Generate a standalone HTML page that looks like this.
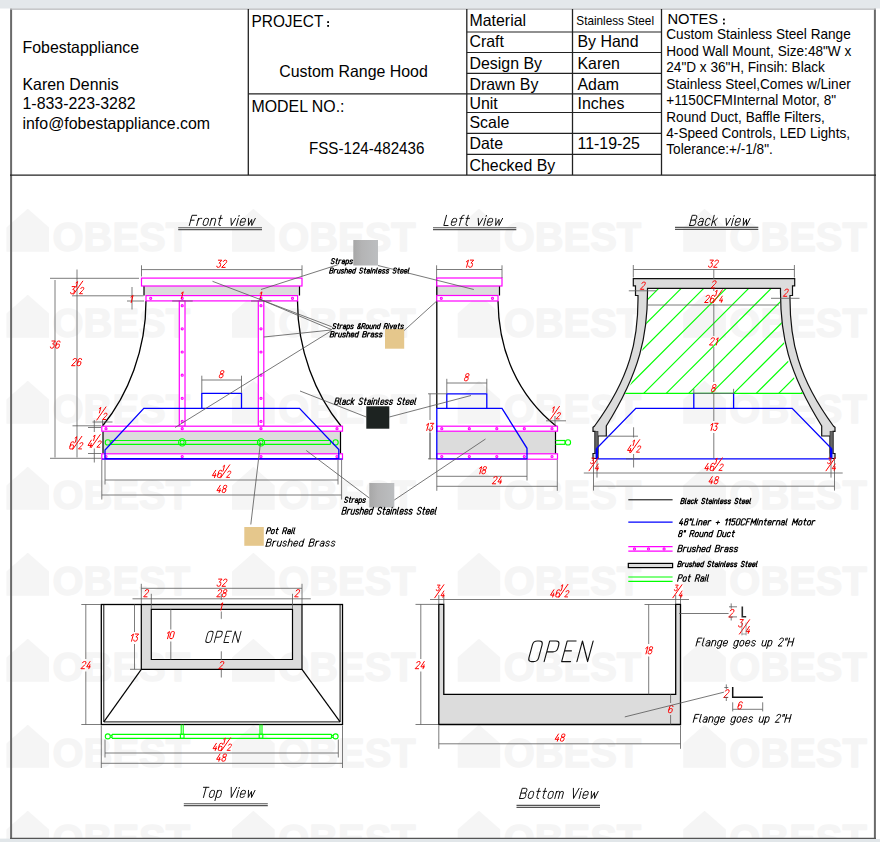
<!DOCTYPE html>
<html><head><meta charset="utf-8"><title>Custom Range Hood FSS-124-482436</title>
<style>
html,body{margin:0;padding:0;background:#fff;}
body{width:880px;height:842px;overflow:hidden;font-family:"Liberation Sans",sans-serif;}
svg{display:block;font-family:"Liberation Sans",sans-serif;}
</style></head><body>
<svg width="880" height="842" viewBox="0 0 880 842">
<rect x="0" y="0" width="880" height="842" fill="#fff"/>
<rect x="0" y="0" width="880" height="8.5" fill="#e4e8eb"/>
<g fill="#f5f5f5" stroke="#f5f5f5" stroke-width="1.3" stroke-linejoin="round">
<path stroke="none" d="M6.45 251.70V227.60L27.75 208.70L49.05 227.60V251.70Z"/>
<text x="52.55" y="251.20" font-size="40.6" font-weight="bold" textLength="137.5" lengthAdjust="spacingAndGlyphs">OBEST</text>
<path stroke="none" d="M232.05 251.70V227.60L253.35 208.70L274.65 227.60V251.70Z"/>
<text x="278.15" y="251.20" font-size="40.6" font-weight="bold" textLength="137.5" lengthAdjust="spacingAndGlyphs">OBEST</text>
<path stroke="none" d="M457.65 251.70V227.60L478.95 208.70L500.25 227.60V251.70Z"/>
<text x="503.75" y="251.20" font-size="40.6" font-weight="bold" textLength="137.5" lengthAdjust="spacingAndGlyphs">OBEST</text>
<path stroke="none" d="M683.25 251.70V227.60L704.55 208.70L725.85 227.60V251.70Z"/>
<text x="729.35" y="251.20" font-size="40.6" font-weight="bold" textLength="137.5" lengthAdjust="spacingAndGlyphs">OBEST</text>
<path stroke="none" d="M6.45 337.70V313.60L27.75 294.70L49.05 313.60V337.70Z"/>
<text x="52.55" y="337.20" font-size="40.6" font-weight="bold" textLength="137.5" lengthAdjust="spacingAndGlyphs">OBEST</text>
<path stroke="none" d="M232.05 337.70V313.60L253.35 294.70L274.65 313.60V337.70Z"/>
<text x="278.15" y="337.20" font-size="40.6" font-weight="bold" textLength="137.5" lengthAdjust="spacingAndGlyphs">OBEST</text>
<path stroke="none" d="M457.65 337.70V313.60L478.95 294.70L500.25 313.60V337.70Z"/>
<text x="503.75" y="337.20" font-size="40.6" font-weight="bold" textLength="137.5" lengthAdjust="spacingAndGlyphs">OBEST</text>
<path stroke="none" d="M683.25 337.70V313.60L704.55 294.70L725.85 313.60V337.70Z"/>
<text x="729.35" y="337.20" font-size="40.6" font-weight="bold" textLength="137.5" lengthAdjust="spacingAndGlyphs">OBEST</text>
<path stroke="none" d="M6.45 423.70V399.60L27.75 380.70L49.05 399.60V423.70Z"/>
<text x="52.55" y="423.20" font-size="40.6" font-weight="bold" textLength="137.5" lengthAdjust="spacingAndGlyphs">OBEST</text>
<path stroke="none" d="M232.05 423.70V399.60L253.35 380.70L274.65 399.60V423.70Z"/>
<text x="278.15" y="423.20" font-size="40.6" font-weight="bold" textLength="137.5" lengthAdjust="spacingAndGlyphs">OBEST</text>
<path stroke="none" d="M457.65 423.70V399.60L478.95 380.70L500.25 399.60V423.70Z"/>
<text x="503.75" y="423.20" font-size="40.6" font-weight="bold" textLength="137.5" lengthAdjust="spacingAndGlyphs">OBEST</text>
<path stroke="none" d="M683.25 423.70V399.60L704.55 380.70L725.85 399.60V423.70Z"/>
<text x="729.35" y="423.20" font-size="40.6" font-weight="bold" textLength="137.5" lengthAdjust="spacingAndGlyphs">OBEST</text>
<path stroke="none" d="M6.45 509.70V485.60L27.75 466.70L49.05 485.60V509.70Z"/>
<text x="52.55" y="509.20" font-size="40.6" font-weight="bold" textLength="137.5" lengthAdjust="spacingAndGlyphs">OBEST</text>
<path stroke="none" d="M232.05 509.70V485.60L253.35 466.70L274.65 485.60V509.70Z"/>
<text x="278.15" y="509.20" font-size="40.6" font-weight="bold" textLength="137.5" lengthAdjust="spacingAndGlyphs">OBEST</text>
<path stroke="none" d="M457.65 509.70V485.60L478.95 466.70L500.25 485.60V509.70Z"/>
<text x="503.75" y="509.20" font-size="40.6" font-weight="bold" textLength="137.5" lengthAdjust="spacingAndGlyphs">OBEST</text>
<path stroke="none" d="M683.25 509.70V485.60L704.55 466.70L725.85 485.60V509.70Z"/>
<text x="729.35" y="509.20" font-size="40.6" font-weight="bold" textLength="137.5" lengthAdjust="spacingAndGlyphs">OBEST</text>
<path stroke="none" d="M6.45 595.70V571.60L27.75 552.70L49.05 571.60V595.70Z"/>
<text x="52.55" y="595.20" font-size="40.6" font-weight="bold" textLength="137.5" lengthAdjust="spacingAndGlyphs">OBEST</text>
<path stroke="none" d="M232.05 595.70V571.60L253.35 552.70L274.65 571.60V595.70Z"/>
<text x="278.15" y="595.20" font-size="40.6" font-weight="bold" textLength="137.5" lengthAdjust="spacingAndGlyphs">OBEST</text>
<path stroke="none" d="M457.65 595.70V571.60L478.95 552.70L500.25 571.60V595.70Z"/>
<text x="503.75" y="595.20" font-size="40.6" font-weight="bold" textLength="137.5" lengthAdjust="spacingAndGlyphs">OBEST</text>
<path stroke="none" d="M683.25 595.70V571.60L704.55 552.70L725.85 571.60V595.70Z"/>
<text x="729.35" y="595.20" font-size="40.6" font-weight="bold" textLength="137.5" lengthAdjust="spacingAndGlyphs">OBEST</text>
<path stroke="none" d="M6.45 681.70V657.60L27.75 638.70L49.05 657.60V681.70Z"/>
<text x="52.55" y="681.20" font-size="40.6" font-weight="bold" textLength="137.5" lengthAdjust="spacingAndGlyphs">OBEST</text>
<path stroke="none" d="M232.05 681.70V657.60L253.35 638.70L274.65 657.60V681.70Z"/>
<text x="278.15" y="681.20" font-size="40.6" font-weight="bold" textLength="137.5" lengthAdjust="spacingAndGlyphs">OBEST</text>
<path stroke="none" d="M457.65 681.70V657.60L478.95 638.70L500.25 657.60V681.70Z"/>
<text x="503.75" y="681.20" font-size="40.6" font-weight="bold" textLength="137.5" lengthAdjust="spacingAndGlyphs">OBEST</text>
<path stroke="none" d="M683.25 681.70V657.60L704.55 638.70L725.85 657.60V681.70Z"/>
<text x="729.35" y="681.20" font-size="40.6" font-weight="bold" textLength="137.5" lengthAdjust="spacingAndGlyphs">OBEST</text>
<path stroke="none" d="M6.45 767.70V743.60L27.75 724.70L49.05 743.60V767.70Z"/>
<text x="52.55" y="767.20" font-size="40.6" font-weight="bold" textLength="137.5" lengthAdjust="spacingAndGlyphs">OBEST</text>
<path stroke="none" d="M232.05 767.70V743.60L253.35 724.70L274.65 743.60V767.70Z"/>
<text x="278.15" y="767.20" font-size="40.6" font-weight="bold" textLength="137.5" lengthAdjust="spacingAndGlyphs">OBEST</text>
<path stroke="none" d="M457.65 767.70V743.60L478.95 724.70L500.25 743.60V767.70Z"/>
<text x="503.75" y="767.20" font-size="40.6" font-weight="bold" textLength="137.5" lengthAdjust="spacingAndGlyphs">OBEST</text>
<path stroke="none" d="M683.25 767.70V743.60L704.55 724.70L725.85 743.60V767.70Z"/>
<text x="729.35" y="767.20" font-size="40.6" font-weight="bold" textLength="137.5" lengthAdjust="spacingAndGlyphs">OBEST</text>
<path stroke="none" d="M6.45 853.70V829.60L27.75 810.70L49.05 829.60V853.70Z"/>
<text x="52.55" y="853.20" font-size="40.6" font-weight="bold" textLength="137.5" lengthAdjust="spacingAndGlyphs">OBEST</text>
<path stroke="none" d="M232.05 853.70V829.60L253.35 810.70L274.65 829.60V853.70Z"/>
<text x="278.15" y="853.20" font-size="40.6" font-weight="bold" textLength="137.5" lengthAdjust="spacingAndGlyphs">OBEST</text>
<path stroke="none" d="M457.65 853.70V829.60L478.95 810.70L500.25 829.60V853.70Z"/>
<text x="503.75" y="853.20" font-size="40.6" font-weight="bold" textLength="137.5" lengthAdjust="spacingAndGlyphs">OBEST</text>
<path stroke="none" d="M683.25 853.70V829.60L704.55 810.70L725.85 829.60V853.70Z"/>
<text x="729.35" y="853.20" font-size="40.6" font-weight="bold" textLength="137.5" lengthAdjust="spacingAndGlyphs">OBEST</text>
</g>
<rect x="0" y="838.6" width="880" height="4" fill="#e1e6e9"/>
<rect x="876" y="9" width="4" height="830" fill="#fff"/>
<line x1="11.1" y1="8.8" x2="11.1" y2="838.9" stroke="#6a6a6a" stroke-width="2" />
<line x1="874.9" y1="8.8" x2="874.9" y2="838.9" stroke="#6a6a6a" stroke-width="2" />
<line x1="10.1" y1="9.1" x2="875.9" y2="9.1" stroke="#b4b6b8" stroke-width="1.2" />
<line x1="10.1" y1="838.35" x2="875.9" y2="838.35" stroke="#555" stroke-width="1.2" />
<line x1="10" y1="175.2" x2="876" y2="175.2" stroke="#222" stroke-width="1.3" />
<line x1="248.3" y1="9" x2="248.3" y2="175" stroke="#222" stroke-width="1.3" />
<line x1="466.8" y1="9" x2="466.8" y2="175" stroke="#222" stroke-width="1.3" />
<line x1="572.5" y1="9" x2="572.5" y2="175" stroke="#222" stroke-width="1.3" />
<line x1="661.5" y1="9" x2="661.5" y2="175" stroke="#222" stroke-width="1.3" />
<line x1="248.3" y1="93.8" x2="466.8" y2="93.8" stroke="#222" stroke-width="1.2" />
<line x1="466.8" y1="32" x2="661.5" y2="32" stroke="#222" stroke-width="1.2" />
<line x1="466.8" y1="52.5" x2="661.5" y2="52.5" stroke="#222" stroke-width="1.2" />
<line x1="466.8" y1="73.3" x2="661.5" y2="73.3" stroke="#222" stroke-width="1.2" />
<line x1="466.8" y1="93.8" x2="661.5" y2="93.8" stroke="#222" stroke-width="1.2" />
<line x1="466.8" y1="112.5" x2="661.5" y2="112.5" stroke="#222" stroke-width="1.2" />
<line x1="466.8" y1="133.3" x2="661.5" y2="133.3" stroke="#222" stroke-width="1.2" />
<line x1="466.8" y1="154.3" x2="661.5" y2="154.3" stroke="#222" stroke-width="1.2" />
<text x="22.5" y="52.7" font-size="16.5" fill="#000" text-anchor="start" textLength="116.67" lengthAdjust="spacingAndGlyphs" >Fobestappliance</text>
<text x="22.5" y="90" font-size="16.5" fill="#000" text-anchor="start" textLength="96.33" lengthAdjust="spacingAndGlyphs" >Karen Dennis</text>
<text x="22.5" y="109.4" font-size="16.5" fill="#000" text-anchor="start" textLength="113.14" lengthAdjust="spacingAndGlyphs" >1-833-223-3282</text>
<text x="22.5" y="128.7" font-size="16.5" fill="#000" text-anchor="start" textLength="187.61" lengthAdjust="spacingAndGlyphs" >info@fobestappliance.com</text>
<text x="251.5" y="26.7" font-size="15.8" fill="#000" text-anchor="start" textLength="71.87" lengthAdjust="spacingAndGlyphs" >PROJECT</text>
<rect x="327.2" y="21.2" width="1.8" height="1.8" stroke="none" fill="#000" stroke-width="1"/>
<rect x="327.2" y="25" width="1.8" height="1.8" stroke="none" fill="#000" stroke-width="1"/>
<text x="279.3" y="76.7" font-size="16.5" fill="#000" text-anchor="start" textLength="148.47" lengthAdjust="spacingAndGlyphs" >Custom Range Hood</text>
<text x="251.5" y="111.7" font-size="16.5" fill="#000" text-anchor="start" textLength="93.05" lengthAdjust="spacingAndGlyphs" >MODEL NO.:</text>
<text x="309" y="154.4" font-size="15.7" fill="#000" text-anchor="start" textLength="115.38" lengthAdjust="spacingAndGlyphs" >FSS-124-482436</text>
<text x="469.5" y="25.5" font-size="16.5" fill="#000" text-anchor="start" textLength="56.55" lengthAdjust="spacingAndGlyphs" >Material</text>
<text x="469.5" y="46.7" font-size="16.5" fill="#000" text-anchor="start" textLength="34.45" lengthAdjust="spacingAndGlyphs" >Craft</text>
<text x="469.5" y="68.7" font-size="16.5" fill="#000" text-anchor="start" textLength="72.46" lengthAdjust="spacingAndGlyphs" >Design By</text>
<text x="469.5" y="89.5" font-size="16.5" fill="#000" text-anchor="start" textLength="68.92" lengthAdjust="spacingAndGlyphs" >Drawn By</text>
<text x="469.5" y="108.7" font-size="16.5" fill="#000" text-anchor="start" textLength="28.27" lengthAdjust="spacingAndGlyphs" >Unit</text>
<text x="469.5" y="127.5" font-size="16.5" fill="#000" text-anchor="start" textLength="39.77" lengthAdjust="spacingAndGlyphs" >Scale</text>
<text x="469.5" y="148.7" font-size="16.5" fill="#000" text-anchor="start" textLength="33.58" lengthAdjust="spacingAndGlyphs" >Date</text>
<text x="469.5" y="170.5" font-size="16.5" fill="#000" text-anchor="start" textLength="85.72" lengthAdjust="spacingAndGlyphs" >Checked By</text>
<text x="576.3" y="24.6" font-size="12.2" fill="#000" text-anchor="start" textLength="77.72" lengthAdjust="spacingAndGlyphs" >Stainless Steel</text>
<text x="577.5" y="46.7" font-size="16.5" fill="#000" text-anchor="start" textLength="60.98" lengthAdjust="spacingAndGlyphs" >By Hand</text>
<text x="577.5" y="68.7" font-size="16.5" fill="#000" text-anchor="start" textLength="42.43" lengthAdjust="spacingAndGlyphs" >Karen</text>
<text x="577.5" y="89.5" font-size="16.5" fill="#000" text-anchor="start" textLength="41.53" lengthAdjust="spacingAndGlyphs" >Adam</text>
<text x="577.5" y="108.7" font-size="16.5" fill="#000" text-anchor="start" textLength="46.84" lengthAdjust="spacingAndGlyphs" >Inches</text>
<text x="577.5" y="148.7" font-size="16.5" fill="#000" text-anchor="start" textLength="62.46" lengthAdjust="spacingAndGlyphs" >11-19-25</text>
<text x="667.5" y="24.2" font-size="14.9" fill="#000" text-anchor="start" textLength="50.64" lengthAdjust="spacingAndGlyphs" >NOTES</text>
<rect x="723" y="18.6" width="1.8" height="1.8" stroke="none" fill="#000" stroke-width="1"/>
<rect x="723" y="22.6" width="1.8" height="1.8" stroke="none" fill="#000" stroke-width="1"/>
<text x="666.3" y="38.7" font-size="14.1" fill="#000" text-anchor="start" textLength="184.44" lengthAdjust="spacingAndGlyphs" >Custom Stainless Steel Range</text>
<text x="666.3" y="55.5" font-size="14.1" fill="#000" text-anchor="start" textLength="184.96" lengthAdjust="spacingAndGlyphs" >Hood Wall Mount, Size:48"W x</text>
<text x="666.3" y="71.8" font-size="14.1" fill="#000" text-anchor="start" textLength="158.55" lengthAdjust="spacingAndGlyphs" >24"D x 36"H, Finsih: Black</text>
<text x="666.3" y="88.7" font-size="14.1" fill="#000" text-anchor="start" textLength="184.43" lengthAdjust="spacingAndGlyphs" >Stainless Steel,Comes w/Liner</text>
<text x="666.3" y="104.5" font-size="14.1" fill="#000" text-anchor="start" textLength="169.74" lengthAdjust="spacingAndGlyphs" >+1150CFMInternal Motor, 8"</text>
<text x="666.3" y="121.7" font-size="14.1" fill="#000" text-anchor="start" textLength="158.48" lengthAdjust="spacingAndGlyphs" >Round Duct, Baffle Filters,</text>
<text x="666.3" y="138" font-size="14.1" fill="#000" text-anchor="start" textLength="183.69" lengthAdjust="spacingAndGlyphs" >4-Speed Controls, LED Lights,</text>
<text x="666.3" y="153.5" font-size="14.1" fill="#000" text-anchor="start" textLength="106.5" lengthAdjust="spacingAndGlyphs" >Tolerance:+/-1/8".</text>
<g>
<g transform="translate(189.30 225.5) skewX(-15) scale(1.0092 1.0200)" fill="none" stroke="#111" stroke-width="1.0" stroke-linejoin="round" stroke-linecap="round"><path transform="translate(0.00 0)" d="M0 0 V-10 H4.6 M0 -5.2 H3.4" vector-effect="non-scaling-stroke"/><path transform="translate(7.30 0)" d="M0 0 V-7 M0 -5 Q0 -7 2 -7 H3.2" vector-effect="non-scaling-stroke"/><path transform="translate(13.20 0)" d="M1.8 0 Q0 0 0 -1.8 V-5.2 Q0 -7 1.8 -7 H2.6 Q4.4 -7 4.4 -5.2 V-1.8 Q4.4 0 2.6 0 Z" vector-effect="non-scaling-stroke"/><path transform="translate(20.30 0)" d="M0 0 V-7 M0 -5.2 Q0 -7 1.8 -7 H2.6 Q4.4 -7 4.4 -5.2 V0" vector-effect="non-scaling-stroke"/><path transform="translate(27.40 0)" d="M1.4 -10 V-1.7 Q1.4 0 3.1 0 H3.4 M0 -7 H3.4" vector-effect="non-scaling-stroke"/><path transform="translate(39.40 0)" d="M0 -7 L2.3 0 L4.6 -7" vector-effect="non-scaling-stroke"/><path transform="translate(46.70 0)" d="M0 0 V-7 M0 -9 V-9.9" vector-effect="non-scaling-stroke"/><path transform="translate(49.80 0)" d="M0 -3.4 H4.4 V-5.2 Q4.4 -7 2.6 -7 H1.8 Q0 -7 0 -5.2 V-1.8 Q0 0 1.8 0 H2.6 Q4.2 0 4.4 -1.4" vector-effect="non-scaling-stroke"/><path transform="translate(56.90 0)" d="M0 -7 L1.65 0 L3.3 -6 L4.95 0 L6.6 -7" vector-effect="non-scaling-stroke"/></g>
<line x1="178.2" y1="227.7" x2="262" y2="227.7" stroke="#555" stroke-width="1.1" />
<line x1="178.2" y1="229.6" x2="262" y2="229.6" stroke="#555" stroke-width="1.3" />
<g transform="translate(443.80 225.5) skewX(-15) scale(1.0122 1.0200)" fill="none" stroke="#111" stroke-width="1.0" stroke-linejoin="round" stroke-linecap="round"><path transform="translate(0.00 0)" d="M0 -10 V0 H4.2" vector-effect="non-scaling-stroke"/><path transform="translate(6.90 0)" d="M0 -3.4 H4.4 V-5.2 Q4.4 -7 2.6 -7 H1.8 Q0 -7 0 -5.2 V-1.8 Q0 0 1.8 0 H2.6 Q4.2 0 4.4 -1.4" vector-effect="non-scaling-stroke"/><path transform="translate(14.00 0)" d="M1.4 0 V-8.3 Q1.4 -10 3.1 -10 H3.4 M0 -7 H3.4" vector-effect="non-scaling-stroke"/><path transform="translate(20.10 0)" d="M1.4 -10 V-1.7 Q1.4 0 3.1 0 H3.4 M0 -7 H3.4" vector-effect="non-scaling-stroke"/><path transform="translate(32.10 0)" d="M0 -7 L2.3 0 L4.6 -7" vector-effect="non-scaling-stroke"/><path transform="translate(39.40 0)" d="M0 0 V-7 M0 -9 V-9.9" vector-effect="non-scaling-stroke"/><path transform="translate(42.50 0)" d="M0 -3.4 H4.4 V-5.2 Q4.4 -7 2.6 -7 H1.8 Q0 -7 0 -5.2 V-1.8 Q0 0 1.8 0 H2.6 Q4.2 0 4.4 -1.4" vector-effect="non-scaling-stroke"/><path transform="translate(49.60 0)" d="M0 -7 L1.65 0 L3.3 -6 L4.95 0 L6.6 -7" vector-effect="non-scaling-stroke"/></g>
<line x1="433" y1="227.7" x2="516.3" y2="227.7" stroke="#555" stroke-width="1.1" />
<line x1="433" y1="229.6" x2="516.3" y2="229.6" stroke="#555" stroke-width="1.3" />
<g transform="translate(689.50 225.5) skewX(-15) scale(0.9947 1.0200)" fill="none" stroke="#111" stroke-width="1.0" stroke-linejoin="round" stroke-linecap="round"><path transform="translate(0.00 0)" d="M0 0 V-10 H3.2 Q5.1 -10 5.1 -8 V-7.3 Q5.1 -5.3 3.2 -5.3 H0 M3.2 -5.3 H3.4 Q5.4 -5.3 5.4 -3.3 V-2 Q5.4 0 3.4 0 H0" vector-effect="non-scaling-stroke"/><path transform="translate(8.10 0)" d="M0.2 -5.8 Q0.5 -7 1.8 -7 H2.6 Q4.4 -7 4.4 -5.2 V0 M4.4 -4 H1.8 Q0 -4 0 -2.2 V-1.8 Q0 0 1.8 0 H2.6 Q4.4 0 4.4 -1.8" vector-effect="non-scaling-stroke"/><path transform="translate(15.20 0)" d="M4.2 -5.5 Q4 -7 2.5 -7 H1.8 Q0 -7 0 -5.2 V-1.8 Q0 0 1.8 0 H2.5 Q4 0 4.2 -1.5" vector-effect="non-scaling-stroke"/><path transform="translate(22.10 0)" d="M0 0 V-10 M0 -2.6 L4 -7 M1.5 -4.2 L4.2 0" vector-effect="non-scaling-stroke"/><path transform="translate(34.90 0)" d="M0 -7 L2.3 0 L4.6 -7" vector-effect="non-scaling-stroke"/><path transform="translate(42.20 0)" d="M0 0 V-7 M0 -9 V-9.9" vector-effect="non-scaling-stroke"/><path transform="translate(45.30 0)" d="M0 -3.4 H4.4 V-5.2 Q4.4 -7 2.6 -7 H1.8 Q0 -7 0 -5.2 V-1.8 Q0 0 1.8 0 H2.6 Q4.2 0 4.4 -1.4" vector-effect="non-scaling-stroke"/><path transform="translate(52.40 0)" d="M0 -7 L1.65 0 L3.3 -6 L4.95 0 L6.6 -7" vector-effect="non-scaling-stroke"/></g>
<line x1="675" y1="227.4" x2="758.3" y2="227.4" stroke="#555" stroke-width="1.1" />
<line x1="675" y1="229.3" x2="758.3" y2="229.3" stroke="#555" stroke-width="1.3" />
<g transform="translate(200.70 797.5) skewX(-15) scale(0.9792 1.0200)" fill="none" stroke="#111" stroke-width="1.0" stroke-linejoin="round" stroke-linecap="round"><path transform="translate(0.00 0)" d="M0 -10 H5.6 M2.8 -10 V0" vector-effect="non-scaling-stroke"/><path transform="translate(8.30 0)" d="M1.8 0 Q0 0 0 -1.8 V-5.2 Q0 -7 1.8 -7 H2.6 Q4.4 -7 4.4 -5.2 V-1.8 Q4.4 0 2.6 0 Z" vector-effect="non-scaling-stroke"/><path transform="translate(15.40 0)" d="M0 3 V-7 M0 -5.2 Q0 -7 1.8 -7 H2.6 Q4.4 -7 4.4 -5.2 V-1.8 Q4.4 0 2.6 0 H1.8 Q0 0 0 -1.8" vector-effect="non-scaling-stroke"/><path transform="translate(28.40 0)" d="M0 -10 L2.8 0 L5.6 -10" vector-effect="non-scaling-stroke"/><path transform="translate(36.70 0)" d="M0 0 V-7 M0 -9 V-9.9" vector-effect="non-scaling-stroke"/><path transform="translate(39.80 0)" d="M0 -3.4 H4.4 V-5.2 Q4.4 -7 2.6 -7 H1.8 Q0 -7 0 -5.2 V-1.8 Q0 0 1.8 0 H2.6 Q4.2 0 4.4 -1.4" vector-effect="non-scaling-stroke"/><path transform="translate(46.90 0)" d="M0 -7 L1.65 0 L3.3 -6 L4.95 0 L6.6 -7" vector-effect="non-scaling-stroke"/></g>
<line x1="183.8" y1="803.8" x2="267.8" y2="803.8" stroke="#555" stroke-width="1.1" />
<line x1="183.8" y1="805.6999999999999" x2="267.8" y2="805.6999999999999" stroke="#555" stroke-width="1.3" />
<g transform="translate(519.50 798.5) skewX(-15) scale(1.0211 1.0200)" fill="none" stroke="#111" stroke-width="1.0" stroke-linejoin="round" stroke-linecap="round"><path transform="translate(0.00 0)" d="M0 0 V-10 H3.2 Q5.1 -10 5.1 -8 V-7.3 Q5.1 -5.3 3.2 -5.3 H0 M3.2 -5.3 H3.4 Q5.4 -5.3 5.4 -3.3 V-2 Q5.4 0 3.4 0 H0" vector-effect="non-scaling-stroke"/><path transform="translate(8.10 0)" d="M1.8 0 Q0 0 0 -1.8 V-5.2 Q0 -7 1.8 -7 H2.6 Q4.4 -7 4.4 -5.2 V-1.8 Q4.4 0 2.6 0 Z" vector-effect="non-scaling-stroke"/><path transform="translate(15.20 0)" d="M1.4 -10 V-1.7 Q1.4 0 3.1 0 H3.4 M0 -7 H3.4" vector-effect="non-scaling-stroke"/><path transform="translate(21.30 0)" d="M1.4 -10 V-1.7 Q1.4 0 3.1 0 H3.4 M0 -7 H3.4" vector-effect="non-scaling-stroke"/><path transform="translate(27.40 0)" d="M1.8 0 Q0 0 0 -1.8 V-5.2 Q0 -7 1.8 -7 H2.6 Q4.4 -7 4.4 -5.2 V-1.8 Q4.4 0 2.6 0 Z" vector-effect="non-scaling-stroke"/><path transform="translate(34.50 0)" d="M0 0 V-7 M0 -5.4 Q0 -7 1.6 -7 H1.9 Q3.5 -7 3.5 -5.4 V0 M3.5 -5.4 Q3.5 -7 5.1 -7 H5.4 Q7 -7 7 -5.4 V0" vector-effect="non-scaling-stroke"/><path transform="translate(50.10 0)" d="M0 -10 L2.8 0 L5.6 -10" vector-effect="non-scaling-stroke"/><path transform="translate(58.40 0)" d="M0 0 V-7 M0 -9 V-9.9" vector-effect="non-scaling-stroke"/><path transform="translate(61.50 0)" d="M0 -3.4 H4.4 V-5.2 Q4.4 -7 2.6 -7 H1.8 Q0 -7 0 -5.2 V-1.8 Q0 0 1.8 0 H2.6 Q4.2 0 4.4 -1.4" vector-effect="non-scaling-stroke"/><path transform="translate(68.60 0)" d="M0 -7 L1.65 0 L3.3 -6 L4.95 0 L6.6 -7" vector-effect="non-scaling-stroke"/></g>
<line x1="516.5" y1="805.4" x2="600" y2="805.4" stroke="#555" stroke-width="1.1" />
<line x1="516.5" y1="807.3" x2="600" y2="807.3" stroke="#555" stroke-width="1.3" />
<defs><linearGradient id="ss" x1="0" x2="1" y1="0" y2="0"><stop offset="0" stop-color="#a7a7a7"/><stop offset="0.35" stop-color="#b4b4b5"/><stop offset="1" stop-color="#bcbec0"/></linearGradient></defs>
<rect x="353.3" y="240" width="24.7" height="25.5" stroke="none" fill="url(#ss)" stroke-width="1"/>
<rect x="369.3" y="483" width="25.0" height="24.5" stroke="none" fill="url(#ss)" stroke-width="1"/>
<rect x="385" y="329" width="19.2" height="19.7" stroke="none" fill="#e5c78c" stroke-width="1"/>
<rect x="244.3" y="527" width="19.5" height="18.8" stroke="none" fill="#e5c78c" stroke-width="1"/>
<rect x="366.3" y="406.3" width="23.0" height="22.4" stroke="none" fill="#1d2321" stroke-width="1"/>
<g transform="translate(330.90 263.7) skewX(-15) scale(0.5489 0.5200)" fill="none" stroke="#000" stroke-width="1.1" stroke-linejoin="round" stroke-linecap="round"><path transform="translate(0.00 0)" d="M4.8 -8.2 Q4.6 -10 2.9 -10 H1.9 Q0 -10 0 -8.1 V-7.2 Q0 -5.6 1.6 -5.2 L3.4 -4.7 Q5 -4.3 5 -2.7 V-1.9 Q5 0 3.1 0 H1.9 Q0.2 0 0 -1.8" vector-effect="non-scaling-stroke"/><path transform="translate(7.70 0)" d="M1.4 -10 V-1.7 Q1.4 0 3.1 0 H3.4 M0 -7 H3.4" vector-effect="non-scaling-stroke"/><path transform="translate(13.80 0)" d="M0 0 V-7 M0 -5 Q0 -7 2 -7 H3.2" vector-effect="non-scaling-stroke"/><path transform="translate(19.70 0)" d="M0.2 -5.8 Q0.5 -7 1.8 -7 H2.6 Q4.4 -7 4.4 -5.2 V0 M4.4 -4 H1.8 Q0 -4 0 -2.2 V-1.8 Q0 0 1.8 0 H2.6 Q4.4 0 4.4 -1.8" vector-effect="non-scaling-stroke"/><path transform="translate(26.80 0)" d="M0 3 V-7 M0 -5.2 Q0 -7 1.8 -7 H2.6 Q4.4 -7 4.4 -5.2 V-1.8 Q4.4 0 2.6 0 H1.8 Q0 0 0 -1.8" vector-effect="non-scaling-stroke"/><path transform="translate(33.90 0)" d="M4.2 -5.6 Q4 -7 2.6 -7 H1.7 Q0 -7 0 -5.4 Q0 -4 1.4 -3.7 L3 -3.3 Q4.4 -3 4.4 -1.6 Q4.4 0 2.7 0 H1.7 Q0.2 0 0 -1.4" vector-effect="non-scaling-stroke"/></g>
<g transform="translate(329.50 273.2) skewX(-15) scale(0.5367 0.5200)" fill="none" stroke="#000" stroke-width="1.1" stroke-linejoin="round" stroke-linecap="round"><path transform="translate(0.00 0)" d="M0 0 V-10 H3.2 Q5.1 -10 5.1 -8 V-7.3 Q5.1 -5.3 3.2 -5.3 H0 M3.2 -5.3 H3.4 Q5.4 -5.3 5.4 -3.3 V-2 Q5.4 0 3.4 0 H0" vector-effect="non-scaling-stroke"/><path transform="translate(8.10 0)" d="M0 0 V-7 M0 -5 Q0 -7 2 -7 H3.2" vector-effect="non-scaling-stroke"/><path transform="translate(14.00 0)" d="M0 -7 V-1.8 Q0 0 1.8 0 H2.6 Q4.4 0 4.4 -1.8 M4.4 -7 V0" vector-effect="non-scaling-stroke"/><path transform="translate(21.10 0)" d="M4.2 -5.6 Q4 -7 2.6 -7 H1.7 Q0 -7 0 -5.4 Q0 -4 1.4 -3.7 L3 -3.3 Q4.4 -3 4.4 -1.6 Q4.4 0 2.7 0 H1.7 Q0.2 0 0 -1.4" vector-effect="non-scaling-stroke"/><path transform="translate(28.20 0)" d="M0 0 V-10 M0 -5.2 Q0 -7 1.8 -7 H2.6 Q4.4 -7 4.4 -5.2 V0" vector-effect="non-scaling-stroke"/><path transform="translate(35.30 0)" d="M0 -3.4 H4.4 V-5.2 Q4.4 -7 2.6 -7 H1.8 Q0 -7 0 -5.2 V-1.8 Q0 0 1.8 0 H2.6 Q4.2 0 4.4 -1.4" vector-effect="non-scaling-stroke"/><path transform="translate(42.40 0)" d="M4.4 0 V-10 M4.4 -5.2 Q4.4 -7 2.6 -7 H1.8 Q0 -7 0 -5.2 V-1.8 Q0 0 1.8 0 H2.6 Q4.4 0 4.4 -1.8" vector-effect="non-scaling-stroke"/><path transform="translate(55.40 0)" d="M4.8 -8.2 Q4.6 -10 2.9 -10 H1.9 Q0 -10 0 -8.1 V-7.2 Q0 -5.6 1.6 -5.2 L3.4 -4.7 Q5 -4.3 5 -2.7 V-1.9 Q5 0 3.1 0 H1.9 Q0.2 0 0 -1.8" vector-effect="non-scaling-stroke"/><path transform="translate(63.10 0)" d="M1.4 -10 V-1.7 Q1.4 0 3.1 0 H3.4 M0 -7 H3.4" vector-effect="non-scaling-stroke"/><path transform="translate(69.20 0)" d="M0.2 -5.8 Q0.5 -7 1.8 -7 H2.6 Q4.4 -7 4.4 -5.2 V0 M4.4 -4 H1.8 Q0 -4 0 -2.2 V-1.8 Q0 0 1.8 0 H2.6 Q4.4 0 4.4 -1.8" vector-effect="non-scaling-stroke"/><path transform="translate(76.30 0)" d="M0 0 V-7 M0 -9 V-9.9" vector-effect="non-scaling-stroke"/><path transform="translate(79.40 0)" d="M0 0 V-7 M0 -5.2 Q0 -7 1.8 -7 H2.6 Q4.4 -7 4.4 -5.2 V0" vector-effect="non-scaling-stroke"/><path transform="translate(86.50 0)" d="M0 -10 V-1.5 Q0 0 1.5 0" vector-effect="non-scaling-stroke"/><path transform="translate(90.70 0)" d="M0 -3.4 H4.4 V-5.2 Q4.4 -7 2.6 -7 H1.8 Q0 -7 0 -5.2 V-1.8 Q0 0 1.8 0 H2.6 Q4.2 0 4.4 -1.4" vector-effect="non-scaling-stroke"/><path transform="translate(97.80 0)" d="M4.2 -5.6 Q4 -7 2.6 -7 H1.7 Q0 -7 0 -5.4 Q0 -4 1.4 -3.7 L3 -3.3 Q4.4 -3 4.4 -1.6 Q4.4 0 2.7 0 H1.7 Q0.2 0 0 -1.4" vector-effect="non-scaling-stroke"/><path transform="translate(104.90 0)" d="M4.2 -5.6 Q4 -7 2.6 -7 H1.7 Q0 -7 0 -5.4 Q0 -4 1.4 -3.7 L3 -3.3 Q4.4 -3 4.4 -1.6 Q4.4 0 2.7 0 H1.7 Q0.2 0 0 -1.4" vector-effect="non-scaling-stroke"/><path transform="translate(117.90 0)" d="M4.8 -8.2 Q4.6 -10 2.9 -10 H1.9 Q0 -10 0 -8.1 V-7.2 Q0 -5.6 1.6 -5.2 L3.4 -4.7 Q5 -4.3 5 -2.7 V-1.9 Q5 0 3.1 0 H1.9 Q0.2 0 0 -1.8" vector-effect="non-scaling-stroke"/><path transform="translate(125.60 0)" d="M1.4 -10 V-1.7 Q1.4 0 3.1 0 H3.4 M0 -7 H3.4" vector-effect="non-scaling-stroke"/><path transform="translate(131.70 0)" d="M0 -3.4 H4.4 V-5.2 Q4.4 -7 2.6 -7 H1.8 Q0 -7 0 -5.2 V-1.8 Q0 0 1.8 0 H2.6 Q4.2 0 4.4 -1.4" vector-effect="non-scaling-stroke"/><path transform="translate(138.80 0)" d="M0 -3.4 H4.4 V-5.2 Q4.4 -7 2.6 -7 H1.8 Q0 -7 0 -5.2 V-1.8 Q0 0 1.8 0 H2.6 Q4.2 0 4.4 -1.4" vector-effect="non-scaling-stroke"/><path transform="translate(145.90 0)" d="M0 -10 V-1.5 Q0 0 1.5 0" vector-effect="non-scaling-stroke"/></g>
<g transform="translate(332.50 328.7) skewX(-15) scale(0.5284 0.5200)" fill="none" stroke="#000" stroke-width="1.1" stroke-linejoin="round" stroke-linecap="round"><path transform="translate(0.00 0)" d="M4.8 -8.2 Q4.6 -10 2.9 -10 H1.9 Q0 -10 0 -8.1 V-7.2 Q0 -5.6 1.6 -5.2 L3.4 -4.7 Q5 -4.3 5 -2.7 V-1.9 Q5 0 3.1 0 H1.9 Q0.2 0 0 -1.8" vector-effect="non-scaling-stroke"/><path transform="translate(7.70 0)" d="M1.4 -10 V-1.7 Q1.4 0 3.1 0 H3.4 M0 -7 H3.4" vector-effect="non-scaling-stroke"/><path transform="translate(13.80 0)" d="M0 0 V-7 M0 -5 Q0 -7 2 -7 H3.2" vector-effect="non-scaling-stroke"/><path transform="translate(19.70 0)" d="M0.2 -5.8 Q0.5 -7 1.8 -7 H2.6 Q4.4 -7 4.4 -5.2 V0 M4.4 -4 H1.8 Q0 -4 0 -2.2 V-1.8 Q0 0 1.8 0 H2.6 Q4.4 0 4.4 -1.8" vector-effect="non-scaling-stroke"/><path transform="translate(26.80 0)" d="M0 3 V-7 M0 -5.2 Q0 -7 1.8 -7 H2.6 Q4.4 -7 4.4 -5.2 V-1.8 Q4.4 0 2.6 0 H1.8 Q0 0 0 -1.8" vector-effect="non-scaling-stroke"/><path transform="translate(33.90 0)" d="M4.2 -5.6 Q4 -7 2.6 -7 H1.7 Q0 -7 0 -5.4 Q0 -4 1.4 -3.7 L3 -3.3 Q4.4 -3 4.4 -1.6 Q4.4 0 2.7 0 H1.7 Q0.2 0 0 -1.4" vector-effect="non-scaling-stroke"/><path transform="translate(46.90 0)" d="M5.2 0 L1 -6.5 Q0.3 -8 1 -9.2 Q1.6 -10 2.5 -10 Q3.8 -10 3.8 -8.6 Q3.8 -7.4 2.6 -6.4 L0.8 -4.6 Q0 -3.7 0 -2.4 Q0 0 2.2 0 Q4 0 5.2 -3.5" vector-effect="non-scaling-stroke"/><path transform="translate(54.80 0)" d="M0 0 V-10 H3.2 Q5.1 -10 5.1 -8.1 V-6.6 Q5.1 -4.7 3.2 -4.7 H0 M3 -4.7 L5.3 0" vector-effect="non-scaling-stroke"/><path transform="translate(62.80 0)" d="M1.8 0 Q0 0 0 -1.8 V-5.2 Q0 -7 1.8 -7 H2.6 Q4.4 -7 4.4 -5.2 V-1.8 Q4.4 0 2.6 0 Z" vector-effect="non-scaling-stroke"/><path transform="translate(69.90 0)" d="M0 -7 V-1.8 Q0 0 1.8 0 H2.6 Q4.4 0 4.4 -1.8 M4.4 -7 V0" vector-effect="non-scaling-stroke"/><path transform="translate(77.00 0)" d="M0 0 V-7 M0 -5.2 Q0 -7 1.8 -7 H2.6 Q4.4 -7 4.4 -5.2 V0" vector-effect="non-scaling-stroke"/><path transform="translate(84.10 0)" d="M4.4 0 V-10 M4.4 -5.2 Q4.4 -7 2.6 -7 H1.8 Q0 -7 0 -5.2 V-1.8 Q0 0 1.8 0 H2.6 Q4.4 0 4.4 -1.8" vector-effect="non-scaling-stroke"/><path transform="translate(97.10 0)" d="M0 0 V-10 H3.2 Q5.1 -10 5.1 -8.1 V-6.6 Q5.1 -4.7 3.2 -4.7 H0 M3 -4.7 L5.3 0" vector-effect="non-scaling-stroke"/><path transform="translate(105.10 0)" d="M0 0 V-7 M0 -9 V-9.9" vector-effect="non-scaling-stroke"/><path transform="translate(108.20 0)" d="M0 -7 L2.3 0 L4.6 -7" vector-effect="non-scaling-stroke"/><path transform="translate(115.50 0)" d="M0 -3.4 H4.4 V-5.2 Q4.4 -7 2.6 -7 H1.8 Q0 -7 0 -5.2 V-1.8 Q0 0 1.8 0 H2.6 Q4.2 0 4.4 -1.4" vector-effect="non-scaling-stroke"/><path transform="translate(122.60 0)" d="M1.4 -10 V-1.7 Q1.4 0 3.1 0 H3.4 M0 -7 H3.4" vector-effect="non-scaling-stroke"/><path transform="translate(128.70 0)" d="M4.2 -5.6 Q4 -7 2.6 -7 H1.7 Q0 -7 0 -5.4 Q0 -4 1.4 -3.7 L3 -3.3 Q4.4 -3 4.4 -1.6 Q4.4 0 2.7 0 H1.7 Q0.2 0 0 -1.4" vector-effect="non-scaling-stroke"/></g>
<g transform="translate(330.00 337) skewX(-15) scale(0.5849 0.5500)" fill="none" stroke="#000" stroke-width="1.1" stroke-linejoin="round" stroke-linecap="round"><path transform="translate(0.00 0)" d="M0 0 V-10 H3.2 Q5.1 -10 5.1 -8 V-7.3 Q5.1 -5.3 3.2 -5.3 H0 M3.2 -5.3 H3.4 Q5.4 -5.3 5.4 -3.3 V-2 Q5.4 0 3.4 0 H0" vector-effect="non-scaling-stroke"/><path transform="translate(8.10 0)" d="M0 0 V-7 M0 -5 Q0 -7 2 -7 H3.2" vector-effect="non-scaling-stroke"/><path transform="translate(14.00 0)" d="M0 -7 V-1.8 Q0 0 1.8 0 H2.6 Q4.4 0 4.4 -1.8 M4.4 -7 V0" vector-effect="non-scaling-stroke"/><path transform="translate(21.10 0)" d="M4.2 -5.6 Q4 -7 2.6 -7 H1.7 Q0 -7 0 -5.4 Q0 -4 1.4 -3.7 L3 -3.3 Q4.4 -3 4.4 -1.6 Q4.4 0 2.7 0 H1.7 Q0.2 0 0 -1.4" vector-effect="non-scaling-stroke"/><path transform="translate(28.20 0)" d="M0 0 V-10 M0 -5.2 Q0 -7 1.8 -7 H2.6 Q4.4 -7 4.4 -5.2 V0" vector-effect="non-scaling-stroke"/><path transform="translate(35.30 0)" d="M0 -3.4 H4.4 V-5.2 Q4.4 -7 2.6 -7 H1.8 Q0 -7 0 -5.2 V-1.8 Q0 0 1.8 0 H2.6 Q4.2 0 4.4 -1.4" vector-effect="non-scaling-stroke"/><path transform="translate(42.40 0)" d="M4.4 0 V-10 M4.4 -5.2 Q4.4 -7 2.6 -7 H1.8 Q0 -7 0 -5.2 V-1.8 Q0 0 1.8 0 H2.6 Q4.4 0 4.4 -1.8" vector-effect="non-scaling-stroke"/><path transform="translate(55.40 0)" d="M0 0 V-10 H3.2 Q5.1 -10 5.1 -8 V-7.3 Q5.1 -5.3 3.2 -5.3 H0 M3.2 -5.3 H3.4 Q5.4 -5.3 5.4 -3.3 V-2 Q5.4 0 3.4 0 H0" vector-effect="non-scaling-stroke"/><path transform="translate(63.50 0)" d="M0 0 V-7 M0 -5 Q0 -7 2 -7 H3.2" vector-effect="non-scaling-stroke"/><path transform="translate(69.40 0)" d="M0.2 -5.8 Q0.5 -7 1.8 -7 H2.6 Q4.4 -7 4.4 -5.2 V0 M4.4 -4 H1.8 Q0 -4 0 -2.2 V-1.8 Q0 0 1.8 0 H2.6 Q4.4 0 4.4 -1.8" vector-effect="non-scaling-stroke"/><path transform="translate(76.50 0)" d="M4.2 -5.6 Q4 -7 2.6 -7 H1.7 Q0 -7 0 -5.4 Q0 -4 1.4 -3.7 L3 -3.3 Q4.4 -3 4.4 -1.6 Q4.4 0 2.7 0 H1.7 Q0.2 0 0 -1.4" vector-effect="non-scaling-stroke"/><path transform="translate(83.60 0)" d="M4.2 -5.6 Q4 -7 2.6 -7 H1.7 Q0 -7 0 -5.4 Q0 -4 1.4 -3.7 L3 -3.3 Q4.4 -3 4.4 -1.6 Q4.4 0 2.7 0 H1.7 Q0.2 0 0 -1.4" vector-effect="non-scaling-stroke"/></g>
<g transform="translate(334.50 404.5) skewX(-15) scale(0.6160 0.6500)" fill="none" stroke="#000" stroke-width="1.1" stroke-linejoin="round" stroke-linecap="round"><path transform="translate(0.00 0)" d="M0 0 V-10 H3.2 Q5.1 -10 5.1 -8 V-7.3 Q5.1 -5.3 3.2 -5.3 H0 M3.2 -5.3 H3.4 Q5.4 -5.3 5.4 -3.3 V-2 Q5.4 0 3.4 0 H0" vector-effect="non-scaling-stroke"/><path transform="translate(8.10 0)" d="M0 -10 V-1.5 Q0 0 1.5 0" vector-effect="non-scaling-stroke"/><path transform="translate(12.30 0)" d="M0.2 -5.8 Q0.5 -7 1.8 -7 H2.6 Q4.4 -7 4.4 -5.2 V0 M4.4 -4 H1.8 Q0 -4 0 -2.2 V-1.8 Q0 0 1.8 0 H2.6 Q4.4 0 4.4 -1.8" vector-effect="non-scaling-stroke"/><path transform="translate(19.40 0)" d="M4.2 -5.5 Q4 -7 2.5 -7 H1.8 Q0 -7 0 -5.2 V-1.8 Q0 0 1.8 0 H2.5 Q4 0 4.2 -1.5" vector-effect="non-scaling-stroke"/><path transform="translate(26.30 0)" d="M0 0 V-10 M0 -2.6 L4 -7 M1.5 -4.2 L4.2 0" vector-effect="non-scaling-stroke"/><path transform="translate(39.10 0)" d="M4.8 -8.2 Q4.6 -10 2.9 -10 H1.9 Q0 -10 0 -8.1 V-7.2 Q0 -5.6 1.6 -5.2 L3.4 -4.7 Q5 -4.3 5 -2.7 V-1.9 Q5 0 3.1 0 H1.9 Q0.2 0 0 -1.8" vector-effect="non-scaling-stroke"/><path transform="translate(46.80 0)" d="M1.4 -10 V-1.7 Q1.4 0 3.1 0 H3.4 M0 -7 H3.4" vector-effect="non-scaling-stroke"/><path transform="translate(52.90 0)" d="M0.2 -5.8 Q0.5 -7 1.8 -7 H2.6 Q4.4 -7 4.4 -5.2 V0 M4.4 -4 H1.8 Q0 -4 0 -2.2 V-1.8 Q0 0 1.8 0 H2.6 Q4.4 0 4.4 -1.8" vector-effect="non-scaling-stroke"/><path transform="translate(60.00 0)" d="M0 0 V-7 M0 -9 V-9.9" vector-effect="non-scaling-stroke"/><path transform="translate(63.10 0)" d="M0 0 V-7 M0 -5.2 Q0 -7 1.8 -7 H2.6 Q4.4 -7 4.4 -5.2 V0" vector-effect="non-scaling-stroke"/><path transform="translate(70.20 0)" d="M0 -10 V-1.5 Q0 0 1.5 0" vector-effect="non-scaling-stroke"/><path transform="translate(74.40 0)" d="M0 -3.4 H4.4 V-5.2 Q4.4 -7 2.6 -7 H1.8 Q0 -7 0 -5.2 V-1.8 Q0 0 1.8 0 H2.6 Q4.2 0 4.4 -1.4" vector-effect="non-scaling-stroke"/><path transform="translate(81.50 0)" d="M4.2 -5.6 Q4 -7 2.6 -7 H1.7 Q0 -7 0 -5.4 Q0 -4 1.4 -3.7 L3 -3.3 Q4.4 -3 4.4 -1.6 Q4.4 0 2.7 0 H1.7 Q0.2 0 0 -1.4" vector-effect="non-scaling-stroke"/><path transform="translate(88.60 0)" d="M4.2 -5.6 Q4 -7 2.6 -7 H1.7 Q0 -7 0 -5.4 Q0 -4 1.4 -3.7 L3 -3.3 Q4.4 -3 4.4 -1.6 Q4.4 0 2.7 0 H1.7 Q0.2 0 0 -1.4" vector-effect="non-scaling-stroke"/><path transform="translate(101.60 0)" d="M4.8 -8.2 Q4.6 -10 2.9 -10 H1.9 Q0 -10 0 -8.1 V-7.2 Q0 -5.6 1.6 -5.2 L3.4 -4.7 Q5 -4.3 5 -2.7 V-1.9 Q5 0 3.1 0 H1.9 Q0.2 0 0 -1.8" vector-effect="non-scaling-stroke"/><path transform="translate(109.30 0)" d="M1.4 -10 V-1.7 Q1.4 0 3.1 0 H3.4 M0 -7 H3.4" vector-effect="non-scaling-stroke"/><path transform="translate(115.40 0)" d="M0 -3.4 H4.4 V-5.2 Q4.4 -7 2.6 -7 H1.8 Q0 -7 0 -5.2 V-1.8 Q0 0 1.8 0 H2.6 Q4.2 0 4.4 -1.4" vector-effect="non-scaling-stroke"/><path transform="translate(122.50 0)" d="M0 -3.4 H4.4 V-5.2 Q4.4 -7 2.6 -7 H1.8 Q0 -7 0 -5.2 V-1.8 Q0 0 1.8 0 H2.6 Q4.2 0 4.4 -1.4" vector-effect="non-scaling-stroke"/><path transform="translate(129.60 0)" d="M0 -10 V-1.5 Q0 0 1.5 0" vector-effect="non-scaling-stroke"/></g>
<g transform="translate(344.30 502.5) skewX(-15) scale(0.5349 0.5400)" fill="none" stroke="#000" stroke-width="1.1" stroke-linejoin="round" stroke-linecap="round"><path transform="translate(0.00 0)" d="M4.8 -8.2 Q4.6 -10 2.9 -10 H1.9 Q0 -10 0 -8.1 V-7.2 Q0 -5.6 1.6 -5.2 L3.4 -4.7 Q5 -4.3 5 -2.7 V-1.9 Q5 0 3.1 0 H1.9 Q0.2 0 0 -1.8" vector-effect="non-scaling-stroke"/><path transform="translate(7.70 0)" d="M1.4 -10 V-1.7 Q1.4 0 3.1 0 H3.4 M0 -7 H3.4" vector-effect="non-scaling-stroke"/><path transform="translate(13.80 0)" d="M0 0 V-7 M0 -5 Q0 -7 2 -7 H3.2" vector-effect="non-scaling-stroke"/><path transform="translate(19.70 0)" d="M0.2 -5.8 Q0.5 -7 1.8 -7 H2.6 Q4.4 -7 4.4 -5.2 V0 M4.4 -4 H1.8 Q0 -4 0 -2.2 V-1.8 Q0 0 1.8 0 H2.6 Q4.4 0 4.4 -1.8" vector-effect="non-scaling-stroke"/><path transform="translate(26.80 0)" d="M0 3 V-7 M0 -5.2 Q0 -7 1.8 -7 H2.6 Q4.4 -7 4.4 -5.2 V-1.8 Q4.4 0 2.6 0 H1.8 Q0 0 0 -1.8" vector-effect="non-scaling-stroke"/><path transform="translate(33.90 0)" d="M4.2 -5.6 Q4 -7 2.6 -7 H1.7 Q0 -7 0 -5.4 Q0 -4 1.4 -3.7 L3 -3.3 Q4.4 -3 4.4 -1.6 Q4.4 0 2.7 0 H1.7 Q0.2 0 0 -1.4" vector-effect="non-scaling-stroke"/></g>
<g transform="translate(341.80 514.2) skewX(-15) scale(0.6367 0.6900)" fill="none" stroke="#000" stroke-width="1.1" stroke-linejoin="round" stroke-linecap="round"><path transform="translate(0.00 0)" d="M0 0 V-10 H3.2 Q5.1 -10 5.1 -8 V-7.3 Q5.1 -5.3 3.2 -5.3 H0 M3.2 -5.3 H3.4 Q5.4 -5.3 5.4 -3.3 V-2 Q5.4 0 3.4 0 H0" vector-effect="non-scaling-stroke"/><path transform="translate(8.10 0)" d="M0 0 V-7 M0 -5 Q0 -7 2 -7 H3.2" vector-effect="non-scaling-stroke"/><path transform="translate(14.00 0)" d="M0 -7 V-1.8 Q0 0 1.8 0 H2.6 Q4.4 0 4.4 -1.8 M4.4 -7 V0" vector-effect="non-scaling-stroke"/><path transform="translate(21.10 0)" d="M4.2 -5.6 Q4 -7 2.6 -7 H1.7 Q0 -7 0 -5.4 Q0 -4 1.4 -3.7 L3 -3.3 Q4.4 -3 4.4 -1.6 Q4.4 0 2.7 0 H1.7 Q0.2 0 0 -1.4" vector-effect="non-scaling-stroke"/><path transform="translate(28.20 0)" d="M0 0 V-10 M0 -5.2 Q0 -7 1.8 -7 H2.6 Q4.4 -7 4.4 -5.2 V0" vector-effect="non-scaling-stroke"/><path transform="translate(35.30 0)" d="M0 -3.4 H4.4 V-5.2 Q4.4 -7 2.6 -7 H1.8 Q0 -7 0 -5.2 V-1.8 Q0 0 1.8 0 H2.6 Q4.2 0 4.4 -1.4" vector-effect="non-scaling-stroke"/><path transform="translate(42.40 0)" d="M4.4 0 V-10 M4.4 -5.2 Q4.4 -7 2.6 -7 H1.8 Q0 -7 0 -5.2 V-1.8 Q0 0 1.8 0 H2.6 Q4.4 0 4.4 -1.8" vector-effect="non-scaling-stroke"/><path transform="translate(55.40 0)" d="M4.8 -8.2 Q4.6 -10 2.9 -10 H1.9 Q0 -10 0 -8.1 V-7.2 Q0 -5.6 1.6 -5.2 L3.4 -4.7 Q5 -4.3 5 -2.7 V-1.9 Q5 0 3.1 0 H1.9 Q0.2 0 0 -1.8" vector-effect="non-scaling-stroke"/><path transform="translate(63.10 0)" d="M1.4 -10 V-1.7 Q1.4 0 3.1 0 H3.4 M0 -7 H3.4" vector-effect="non-scaling-stroke"/><path transform="translate(69.20 0)" d="M0.2 -5.8 Q0.5 -7 1.8 -7 H2.6 Q4.4 -7 4.4 -5.2 V0 M4.4 -4 H1.8 Q0 -4 0 -2.2 V-1.8 Q0 0 1.8 0 H2.6 Q4.4 0 4.4 -1.8" vector-effect="non-scaling-stroke"/><path transform="translate(76.30 0)" d="M0 0 V-7 M0 -9 V-9.9" vector-effect="non-scaling-stroke"/><path transform="translate(79.40 0)" d="M0 0 V-7 M0 -5.2 Q0 -7 1.8 -7 H2.6 Q4.4 -7 4.4 -5.2 V0" vector-effect="non-scaling-stroke"/><path transform="translate(86.50 0)" d="M0 -10 V-1.5 Q0 0 1.5 0" vector-effect="non-scaling-stroke"/><path transform="translate(90.70 0)" d="M0 -3.4 H4.4 V-5.2 Q4.4 -7 2.6 -7 H1.8 Q0 -7 0 -5.2 V-1.8 Q0 0 1.8 0 H2.6 Q4.2 0 4.4 -1.4" vector-effect="non-scaling-stroke"/><path transform="translate(97.80 0)" d="M4.2 -5.6 Q4 -7 2.6 -7 H1.7 Q0 -7 0 -5.4 Q0 -4 1.4 -3.7 L3 -3.3 Q4.4 -3 4.4 -1.6 Q4.4 0 2.7 0 H1.7 Q0.2 0 0 -1.4" vector-effect="non-scaling-stroke"/><path transform="translate(104.90 0)" d="M4.2 -5.6 Q4 -7 2.6 -7 H1.7 Q0 -7 0 -5.4 Q0 -4 1.4 -3.7 L3 -3.3 Q4.4 -3 4.4 -1.6 Q4.4 0 2.7 0 H1.7 Q0.2 0 0 -1.4" vector-effect="non-scaling-stroke"/><path transform="translate(117.90 0)" d="M4.8 -8.2 Q4.6 -10 2.9 -10 H1.9 Q0 -10 0 -8.1 V-7.2 Q0 -5.6 1.6 -5.2 L3.4 -4.7 Q5 -4.3 5 -2.7 V-1.9 Q5 0 3.1 0 H1.9 Q0.2 0 0 -1.8" vector-effect="non-scaling-stroke"/><path transform="translate(125.60 0)" d="M1.4 -10 V-1.7 Q1.4 0 3.1 0 H3.4 M0 -7 H3.4" vector-effect="non-scaling-stroke"/><path transform="translate(131.70 0)" d="M0 -3.4 H4.4 V-5.2 Q4.4 -7 2.6 -7 H1.8 Q0 -7 0 -5.2 V-1.8 Q0 0 1.8 0 H2.6 Q4.2 0 4.4 -1.4" vector-effect="non-scaling-stroke"/><path transform="translate(138.80 0)" d="M0 -3.4 H4.4 V-5.2 Q4.4 -7 2.6 -7 H1.8 Q0 -7 0 -5.2 V-1.8 Q0 0 1.8 0 H2.6 Q4.2 0 4.4 -1.4" vector-effect="non-scaling-stroke"/><path transform="translate(145.90 0)" d="M0 -10 V-1.5 Q0 0 1.5 0" vector-effect="non-scaling-stroke"/></g>
<g transform="translate(266.30 533.7) skewX(-15) scale(0.5991 0.5900)" fill="none" stroke="#000" stroke-width="1.1" stroke-linejoin="round" stroke-linecap="round"><path transform="translate(0.00 0)" d="M0 0 V-10 H3.2 Q5.1 -10 5.1 -8.1 V-6.6 Q5.1 -4.7 3.2 -4.7 H0" vector-effect="non-scaling-stroke"/><path transform="translate(7.80 0)" d="M1.8 0 Q0 0 0 -1.8 V-5.2 Q0 -7 1.8 -7 H2.6 Q4.4 -7 4.4 -5.2 V-1.8 Q4.4 0 2.6 0 Z" vector-effect="non-scaling-stroke"/><path transform="translate(14.90 0)" d="M1.4 -10 V-1.7 Q1.4 0 3.1 0 H3.4 M0 -7 H3.4" vector-effect="non-scaling-stroke"/><path transform="translate(26.90 0)" d="M0 0 V-10 H3.2 Q5.1 -10 5.1 -8.1 V-6.6 Q5.1 -4.7 3.2 -4.7 H0 M3 -4.7 L5.3 0" vector-effect="non-scaling-stroke"/><path transform="translate(34.90 0)" d="M0.2 -5.8 Q0.5 -7 1.8 -7 H2.6 Q4.4 -7 4.4 -5.2 V0 M4.4 -4 H1.8 Q0 -4 0 -2.2 V-1.8 Q0 0 1.8 0 H2.6 Q4.4 0 4.4 -1.8" vector-effect="non-scaling-stroke"/><path transform="translate(42.00 0)" d="M0 0 V-7 M0 -9 V-9.9" vector-effect="non-scaling-stroke"/><path transform="translate(45.10 0)" d="M0 -10 V-1.5 Q0 0 1.5 0" vector-effect="non-scaling-stroke"/></g>
<g transform="translate(266.00 546.2) skewX(-15) scale(0.7744 0.7200)" fill="none" stroke="#000" stroke-width="1.0" stroke-linejoin="round" stroke-linecap="round"><path transform="translate(0.00 0)" d="M0 0 V-10 H3.2 Q5.1 -10 5.1 -8 V-7.3 Q5.1 -5.3 3.2 -5.3 H0 M3.2 -5.3 H3.4 Q5.4 -5.3 5.4 -3.3 V-2 Q5.4 0 3.4 0 H0" vector-effect="non-scaling-stroke"/><path transform="translate(8.10 0)" d="M0 0 V-7 M0 -5 Q0 -7 2 -7 H3.2" vector-effect="non-scaling-stroke"/><path transform="translate(14.00 0)" d="M0 -7 V-1.8 Q0 0 1.8 0 H2.6 Q4.4 0 4.4 -1.8 M4.4 -7 V0" vector-effect="non-scaling-stroke"/><path transform="translate(21.10 0)" d="M4.2 -5.6 Q4 -7 2.6 -7 H1.7 Q0 -7 0 -5.4 Q0 -4 1.4 -3.7 L3 -3.3 Q4.4 -3 4.4 -1.6 Q4.4 0 2.7 0 H1.7 Q0.2 0 0 -1.4" vector-effect="non-scaling-stroke"/><path transform="translate(28.20 0)" d="M0 0 V-10 M0 -5.2 Q0 -7 1.8 -7 H2.6 Q4.4 -7 4.4 -5.2 V0" vector-effect="non-scaling-stroke"/><path transform="translate(35.30 0)" d="M0 -3.4 H4.4 V-5.2 Q4.4 -7 2.6 -7 H1.8 Q0 -7 0 -5.2 V-1.8 Q0 0 1.8 0 H2.6 Q4.2 0 4.4 -1.4" vector-effect="non-scaling-stroke"/><path transform="translate(42.40 0)" d="M4.4 0 V-10 M4.4 -5.2 Q4.4 -7 2.6 -7 H1.8 Q0 -7 0 -5.2 V-1.8 Q0 0 1.8 0 H2.6 Q4.4 0 4.4 -1.8" vector-effect="non-scaling-stroke"/><path transform="translate(55.40 0)" d="M0 0 V-10 H3.2 Q5.1 -10 5.1 -8 V-7.3 Q5.1 -5.3 3.2 -5.3 H0 M3.2 -5.3 H3.4 Q5.4 -5.3 5.4 -3.3 V-2 Q5.4 0 3.4 0 H0" vector-effect="non-scaling-stroke"/><path transform="translate(63.50 0)" d="M0 0 V-7 M0 -5 Q0 -7 2 -7 H3.2" vector-effect="non-scaling-stroke"/><path transform="translate(69.40 0)" d="M0.2 -5.8 Q0.5 -7 1.8 -7 H2.6 Q4.4 -7 4.4 -5.2 V0 M4.4 -4 H1.8 Q0 -4 0 -2.2 V-1.8 Q0 0 1.8 0 H2.6 Q4.4 0 4.4 -1.8" vector-effect="non-scaling-stroke"/><path transform="translate(76.50 0)" d="M4.2 -5.6 Q4 -7 2.6 -7 H1.7 Q0 -7 0 -5.4 Q0 -4 1.4 -3.7 L3 -3.3 Q4.4 -3 4.4 -1.6 Q4.4 0 2.7 0 H1.7 Q0.2 0 0 -1.4" vector-effect="non-scaling-stroke"/><path transform="translate(83.60 0)" d="M4.2 -5.6 Q4 -7 2.6 -7 H1.7 Q0 -7 0 -5.4 Q0 -4 1.4 -3.7 L3 -3.3 Q4.4 -3 4.4 -1.6 Q4.4 0 2.7 0 H1.7 Q0.2 0 0 -1.4" vector-effect="non-scaling-stroke"/></g>
<rect x="144" y="286" width="155.5" height="9.5" stroke="none" fill="#dcdcdc" stroke-width="1"/>
<rect x="103" y="431.2" width="237.5" height="22.6" stroke="none" fill="#dcdcdc" stroke-width="1"/>
<line x1="144" y1="286" x2="144" y2="295.5" stroke="#000" stroke-width="1.2" />
<line x1="299.5" y1="286" x2="299.5" y2="295.5" stroke="#000" stroke-width="1.2" />
<line x1="103" y1="431.2" x2="103" y2="453.8" stroke="#000" stroke-width="1.2" />
<line x1="340.5" y1="431.2" x2="340.5" y2="453.8" stroke="#000" stroke-width="1.2" />
<path d="M146 301 C146 350 128 395 102.5 426" stroke="#000" fill="none" stroke-width="1.3" />
<path d="M297.5 301 C297.5 350 315.5 395 341 426" stroke="#000" fill="none" stroke-width="1.3" />
<rect x="141.5" y="278.1" width="160.5" height="7.9" stroke="#ff00ff" fill="#fff" stroke-width="1.2"/>
<rect x="146" y="295.6" width="151.6" height="5.3" stroke="#ff00ff" fill="#fff" stroke-width="1.2"/>
<rect x="179.3" y="301" width="5.7" height="125.2" stroke="#ff00ff" fill="#fff" stroke-width="1.2"/>
<rect x="258.3" y="301" width="5.5" height="125.2" stroke="#ff00ff" fill="#fff" stroke-width="1.2"/>
<rect x="101.8" y="426.2" width="240.7" height="5.0" stroke="#ff00ff" fill="#fff" stroke-width="1.2"/>
<rect x="101.8" y="453.8" width="240.7" height="5.4" stroke="#ff00ff" fill="#fff" stroke-width="1.2"/>
<circle cx="150.7" cy="298.3" r="1.05" stroke="#ff00ff" fill="#ffc8ff" stroke-width="1.1"/>
<circle cx="182.2" cy="298.3" r="1.05" stroke="#ff00ff" fill="#ffc8ff" stroke-width="1.1"/>
<circle cx="261" cy="298.3" r="1.05" stroke="#ff00ff" fill="#ffc8ff" stroke-width="1.1"/>
<circle cx="292.5" cy="298.3" r="1.05" stroke="#ff00ff" fill="#ffc8ff" stroke-width="1.1"/>
<circle cx="182.2" cy="305.7" r="1.05" stroke="#ff00ff" fill="#ffc8ff" stroke-width="1.1"/>
<circle cx="182.2" cy="328.84999999999997" r="1.05" stroke="#ff00ff" fill="#ffc8ff" stroke-width="1.1"/>
<circle cx="182.2" cy="352.0" r="1.05" stroke="#ff00ff" fill="#ffc8ff" stroke-width="1.1"/>
<circle cx="182.2" cy="375.15" r="1.05" stroke="#ff00ff" fill="#ffc8ff" stroke-width="1.1"/>
<circle cx="182.2" cy="398.29999999999995" r="1.05" stroke="#ff00ff" fill="#ffc8ff" stroke-width="1.1"/>
<circle cx="182.2" cy="421.45" r="1.05" stroke="#ff00ff" fill="#ffc8ff" stroke-width="1.1"/>
<circle cx="261" cy="305.7" r="1.05" stroke="#ff00ff" fill="#ffc8ff" stroke-width="1.1"/>
<circle cx="261" cy="328.84999999999997" r="1.05" stroke="#ff00ff" fill="#ffc8ff" stroke-width="1.1"/>
<circle cx="261" cy="352.0" r="1.05" stroke="#ff00ff" fill="#ffc8ff" stroke-width="1.1"/>
<circle cx="261" cy="375.15" r="1.05" stroke="#ff00ff" fill="#ffc8ff" stroke-width="1.1"/>
<circle cx="261" cy="398.29999999999995" r="1.05" stroke="#ff00ff" fill="#ffc8ff" stroke-width="1.1"/>
<circle cx="261" cy="421.45" r="1.05" stroke="#ff00ff" fill="#ffc8ff" stroke-width="1.1"/>
<circle cx="106" cy="428.7" r="1.05" stroke="#ff00ff" fill="#ffc8ff" stroke-width="1.1"/>
<circle cx="106" cy="456.5" r="1.05" stroke="#ff00ff" fill="#ffc8ff" stroke-width="1.1"/>
<circle cx="182.2" cy="428.7" r="1.05" stroke="#ff00ff" fill="#ffc8ff" stroke-width="1.1"/>
<circle cx="182.2" cy="456.5" r="1.05" stroke="#ff00ff" fill="#ffc8ff" stroke-width="1.1"/>
<circle cx="261" cy="428.7" r="1.05" stroke="#ff00ff" fill="#ffc8ff" stroke-width="1.1"/>
<circle cx="261" cy="456.5" r="1.05" stroke="#ff00ff" fill="#ffc8ff" stroke-width="1.1"/>
<circle cx="337" cy="428.7" r="1.05" stroke="#ff00ff" fill="#ffc8ff" stroke-width="1.1"/>
<circle cx="337" cy="456.5" r="1.05" stroke="#ff00ff" fill="#ffc8ff" stroke-width="1.1"/>
<line x1="111" y1="440.5" x2="330.5" y2="440.5" stroke="#00ff00" stroke-width="1.2" />
<line x1="111" y1="444.3" x2="330.5" y2="444.3" stroke="#00ff00" stroke-width="1.2" />
<path d="M111 440.5 V444.3 M330.5 440.5 V444.3" stroke="#00ff00" fill="none" stroke-width="1.2" />
<circle cx="107.8" cy="442.4" r="2.6" stroke="#00ff00" fill="none" stroke-width="1.1"/>
<circle cx="335.6" cy="442.4" r="2.6" stroke="#00ff00" fill="none" stroke-width="1.1"/>
<circle cx="182.2" cy="442.4" r="3.6" stroke="#00ff00" fill="none" stroke-width="1.1"/>
<circle cx="182.2" cy="442.4" r="2.0" stroke="#00ff00" fill="none" stroke-width="1.0"/>
<circle cx="261" cy="442.4" r="3.6" stroke="#00ff00" fill="none" stroke-width="1.1"/>
<circle cx="261" cy="442.4" r="2.0" stroke="#00ff00" fill="none" stroke-width="1.0"/>
<path d="M105 458.7 V450 L143.8 408.3 H299.5 L338.8 449.6 V458.7 Z" stroke="#0000ff" fill="none" stroke-width="1.3" />
<line x1="101.8" y1="459" x2="342.5" y2="459" stroke="#0000ff" stroke-width="1.2" />
<path d="M201.8 408.3 V393.3 H241.5 V408.3" stroke="#0000ff" fill="none" stroke-width="1.3" />
<line x1="141.5" y1="269.6" x2="302" y2="269.6" stroke="#5a5a5a" stroke-width="0.8" />
<line x1="141.5" y1="265.3" x2="141.5" y2="276.5" stroke="#5a5a5a" stroke-width="0.8" />
<line x1="302" y1="265.3" x2="302" y2="276.5" stroke="#5a5a5a" stroke-width="0.8" />
<g transform="translate(216.44 267.40000000000003) skewX(-15) scale(0.7488 0.7200)" fill="none" stroke="#ff0000" stroke-width="1.0" stroke-linejoin="round" stroke-linecap="round"><path transform="translate(0.00 0)" d="M0 -10 H4.6 L2 -5.8 H2.7 Q4.6 -5.8 4.6 -3.9 V-1.9 Q4.6 0 2.7 0 H1.9 Q0.2 0 0 -1.7" vector-effect="non-scaling-stroke"/><path transform="translate(7.00 0)" d="M0 -8.2 Q0.2 -10 1.9 -10 H2.7 Q4.6 -10 4.6 -8.1 V-7.6 Q4.6 -6.3 3.6 -5.3 L0 0 H4.6" vector-effect="non-scaling-stroke"/></g>
<line x1="201.8" y1="380" x2="241.5" y2="380" stroke="#5a5a5a" stroke-width="0.8" />
<line x1="201.8" y1="375.7" x2="201.8" y2="392.8" stroke="#5a5a5a" stroke-width="0.8" />
<line x1="241.5" y1="375.7" x2="241.5" y2="392.8" stroke="#5a5a5a" stroke-width="0.8" />
<g transform="translate(218.96 377.8) skewX(-15) scale(0.7488 0.7200)" fill="none" stroke="#ff0000" stroke-width="1.0" stroke-linejoin="round" stroke-linecap="round"><path transform="translate(0.00 0)" d="M1.9 -5.4 Q0.2 -5.4 0.2 -7.1 V-8.3 Q0.2 -10 1.9 -10 H2.7 Q4.4 -10 4.4 -8.3 V-7.1 Q4.4 -5.4 2.7 -5.4 Z M1.9 -5.4 Q0 -5.4 0 -3.5 V-1.9 Q0 0 1.9 0 H2.7 Q4.6 0 4.6 -1.9 V-3.5 Q4.6 -5.4 2.7 -5.4" vector-effect="non-scaling-stroke"/></g>
<line x1="105" y1="480" x2="338" y2="480" stroke="#5a5a5a" stroke-width="0.8" />
<line x1="105" y1="460" x2="105" y2="484.5" stroke="#5a5a5a" stroke-width="0.8" />
<line x1="338" y1="460" x2="338" y2="484.5" stroke="#5a5a5a" stroke-width="0.8" />
<g transform="translate(211.80 477.5) skewX(-15) scale(0.7488 0.7200)" fill="none" stroke="#ff0000" stroke-width="1.0" stroke-linejoin="round" stroke-linecap="round"><path transform="translate(0.00 0)" d="M2.6 -10 L0 -2.6 H4.8 M3.6 -5.4 V0" vector-effect="non-scaling-stroke"/><path transform="translate(7.20 0)" d="M4.4 -8.4 Q4.2 -10 2.7 -10 H1.9 Q0 -10 0 -8.1 V-1.9 Q0 0 1.9 0 H2.7 Q4.6 0 4.6 -1.9 V-3.9 Q4.6 -5.8 2.7 -5.8 H1.9 Q0 -5.8 0 -3.9" vector-effect="non-scaling-stroke"/></g>
<g transform="translate(221.87 470.8) skewX(-15) scale(0.5800 0.5600)" fill="none" stroke="#ff0000" stroke-width="0.95" stroke-linejoin="round" stroke-linecap="round"><path transform="translate(0.00 0)" d="M0 -7.6 L2.2 -10 V0" vector-effect="non-scaling-stroke"/></g>
<line x1="220.36544" y1="478.2" x2="229.96544" y2="464.5" stroke="#ff0000" stroke-width="1.0" />
<g transform="translate(226.37 477.4) skewX(-15) scale(0.6600 0.6300)" fill="none" stroke="#ff0000" stroke-width="0.95" stroke-linejoin="round" stroke-linecap="round"><path transform="translate(0.00 0)" d="M0 -8.2 Q0.2 -10 1.9 -10 H2.7 Q4.6 -10 4.6 -8.1 V-7.6 Q4.6 -6.3 3.6 -5.3 L0 0 H4.6" vector-effect="non-scaling-stroke"/></g>
<line x1="101.8" y1="495" x2="341.6" y2="495" stroke="#5a5a5a" stroke-width="0.8" />
<line x1="101.8" y1="460" x2="101.8" y2="499.5" stroke="#5a5a5a" stroke-width="0.8" />
<line x1="341.6" y1="460" x2="341.6" y2="499.5" stroke="#5a5a5a" stroke-width="0.8" />
<g transform="translate(216.42 492.5) skewX(-15) scale(0.7488 0.7200)" fill="none" stroke="#ff0000" stroke-width="1.0" stroke-linejoin="round" stroke-linecap="round"><path transform="translate(0.00 0)" d="M2.6 -10 L0 -2.6 H4.8 M3.6 -5.4 V0" vector-effect="non-scaling-stroke"/><path transform="translate(7.20 0)" d="M1.9 -5.4 Q0.2 -5.4 0.2 -7.1 V-8.3 Q0.2 -10 1.9 -10 H2.7 Q4.4 -10 4.4 -8.3 V-7.1 Q4.4 -5.4 2.7 -5.4 Z M1.9 -5.4 Q0 -5.4 0 -3.5 V-1.9 Q0 0 1.9 0 H2.7 Q4.6 0 4.6 -1.9 V-3.5 Q4.6 -5.4 2.7 -5.4" vector-effect="non-scaling-stroke"/></g>
<line x1="50" y1="278.3" x2="139" y2="278.3" stroke="#5a5a5a" stroke-width="0.8" />
<line x1="72" y1="295.8" x2="143.5" y2="295.8" stroke="#5a5a5a" stroke-width="0.8" />
<line x1="72.5" y1="425.8" x2="101" y2="425.8" stroke="#5a5a5a" stroke-width="0.8" />
<line x1="50" y1="458.3" x2="101" y2="458.3" stroke="#5a5a5a" stroke-width="0.8" />
<line x1="55" y1="280" x2="55" y2="457.5" stroke="#5a5a5a" stroke-width="0.8" />
<g transform="translate(49.99 348.2) skewX(-15) scale(0.7488 0.7200)" fill="none" stroke="#ff0000" stroke-width="1.0" stroke-linejoin="round" stroke-linecap="round"><path transform="translate(0.00 0)" d="M0 -10 H4.6 L2 -5.8 H2.7 Q4.6 -5.8 4.6 -3.9 V-1.9 Q4.6 0 2.7 0 H1.9 Q0.2 0 0 -1.7" vector-effect="non-scaling-stroke"/><path transform="translate(7.00 0)" d="M4.4 -8.4 Q4.2 -10 2.7 -10 H1.9 Q0 -10 0 -8.1 V-1.9 Q0 0 1.9 0 H2.7 Q4.6 0 4.6 -1.9 V-3.9 Q4.6 -5.8 2.7 -5.8 H1.9 Q0 -5.8 0 -3.9" vector-effect="non-scaling-stroke"/></g>
<line x1="77" y1="269.5" x2="77" y2="457.5" stroke="#5a5a5a" stroke-width="0.8" />
<g transform="translate(71.49 365.7) skewX(-15) scale(0.7488 0.7200)" fill="none" stroke="#ff0000" stroke-width="1.0" stroke-linejoin="round" stroke-linecap="round"><path transform="translate(0.00 0)" d="M0 -8.2 Q0.2 -10 1.9 -10 H2.7 Q4.6 -10 4.6 -8.1 V-7.6 Q4.6 -6.3 3.6 -5.3 L0 0 H4.6" vector-effect="non-scaling-stroke"/><path transform="translate(7.00 0)" d="M4.4 -8.4 Q4.2 -10 2.7 -10 H1.9 Q0 -10 0 -8.1 V-1.9 Q0 0 1.9 0 H2.7 Q4.6 0 4.6 -1.9 V-3.9 Q4.6 -5.8 2.7 -5.8 H1.9 Q0 -5.8 0 -3.9" vector-effect="non-scaling-stroke"/></g>
<g transform="translate(70.20 293.8) skewX(-15) scale(0.7488 0.7200)" fill="none" stroke="#ff0000" stroke-width="1.0" stroke-linejoin="round" stroke-linecap="round"><path transform="translate(0.00 0)" d="M0 -10 H4.6 L2 -5.8 H2.7 Q4.6 -5.8 4.6 -3.9 V-1.9 Q4.6 0 2.7 0 H1.9 Q0.2 0 0 -1.7" vector-effect="non-scaling-stroke"/></g>
<g transform="translate(74.87 287.1) skewX(-15) scale(0.5800 0.5600)" fill="none" stroke="#ff0000" stroke-width="0.95" stroke-linejoin="round" stroke-linecap="round"><path transform="translate(0.00 0)" d="M0 -7.6 L2.2 -10 V0" vector-effect="non-scaling-stroke"/></g>
<line x1="73.37408" y1="294.5" x2="82.97408" y2="280.8" stroke="#ff0000" stroke-width="1.0" />
<g transform="translate(79.37 293.7) skewX(-15) scale(0.6600 0.6300)" fill="none" stroke="#ff0000" stroke-width="0.95" stroke-linejoin="round" stroke-linecap="round"><path transform="translate(0.00 0)" d="M0 -8.2 Q0.2 -10 1.9 -10 H2.7 Q4.6 -10 4.6 -8.1 V-7.6 Q4.6 -6.3 3.6 -5.3 L0 0 H4.6" vector-effect="non-scaling-stroke"/></g>
<g transform="translate(69.30 449) skewX(-15) scale(0.7488 0.7200)" fill="none" stroke="#ff0000" stroke-width="1.0" stroke-linejoin="round" stroke-linecap="round"><path transform="translate(0.00 0)" d="M4.4 -8.4 Q4.2 -10 2.7 -10 H1.9 Q0 -10 0 -8.1 V-1.9 Q0 0 1.9 0 H2.7 Q4.6 0 4.6 -1.9 V-3.9 Q4.6 -5.8 2.7 -5.8 H1.9 Q0 -5.8 0 -3.9" vector-effect="non-scaling-stroke"/></g>
<g transform="translate(73.97 442.3) skewX(-15) scale(0.5800 0.5600)" fill="none" stroke="#ff0000" stroke-width="0.95" stroke-linejoin="round" stroke-linecap="round"><path transform="translate(0.00 0)" d="M0 -7.6 L2.2 -10 V0" vector-effect="non-scaling-stroke"/></g>
<line x1="72.47408" y1="449.7" x2="82.07408" y2="436" stroke="#ff0000" stroke-width="1.0" />
<g transform="translate(78.47 448.9) skewX(-15) scale(0.6600 0.6300)" fill="none" stroke="#ff0000" stroke-width="0.95" stroke-linejoin="round" stroke-linecap="round"><path transform="translate(0.00 0)" d="M0 -8.2 Q0.2 -10 1.9 -10 H2.7 Q4.6 -10 4.6 -8.1 V-7.6 Q4.6 -6.3 3.6 -5.3 L0 0 H4.6" vector-effect="non-scaling-stroke"/></g>
<line x1="94.3" y1="420" x2="94.3" y2="432" stroke="#5a5a5a" stroke-width="0.8" />
<line x1="94.3" y1="448.5" x2="94.3" y2="462.5" stroke="#5a5a5a" stroke-width="0.8" />
<g transform="translate(87.50 447.3) skewX(-15) scale(0.7488 0.7200)" fill="none" stroke="#ff0000" stroke-width="1.0" stroke-linejoin="round" stroke-linecap="round"><path transform="translate(0.00 0)" d="M2.6 -10 L0 -2.6 H4.8 M3.6 -5.4 V0" vector-effect="non-scaling-stroke"/></g>
<g transform="translate(92.32 440.6) skewX(-15) scale(0.5800 0.5600)" fill="none" stroke="#ff0000" stroke-width="0.95" stroke-linejoin="round" stroke-linecap="round"><path transform="translate(0.00 0)" d="M0 -7.6 L2.2 -10 V0" vector-effect="non-scaling-stroke"/></g>
<line x1="90.82384" y1="448.0" x2="100.42384" y2="434.3" stroke="#ff0000" stroke-width="1.0" />
<g transform="translate(96.82 447.2) skewX(-15) scale(0.6600 0.6300)" fill="none" stroke="#ff0000" stroke-width="0.95" stroke-linejoin="round" stroke-linecap="round"><path transform="translate(0.00 0)" d="M0 -8.2 Q0.2 -10 1.9 -10 H2.7 Q4.6 -10 4.6 -8.1 V-7.6 Q4.6 -6.3 3.6 -5.3 L0 0 H4.6" vector-effect="non-scaling-stroke"/></g>
<line x1="88" y1="427.5" x2="101" y2="427.5" stroke="#5a5a5a" stroke-width="0.8" />
<line x1="88" y1="453.5" x2="101" y2="453.5" stroke="#5a5a5a" stroke-width="0.8" />
<line x1="102.5" y1="420" x2="102.5" y2="426" stroke="#5a5a5a" stroke-width="0.8" />
<line x1="92.5" y1="422" x2="112.5" y2="422" stroke="#5a5a5a" stroke-width="0.8" />
<g transform="translate(98.10 412.90000000000003) skewX(-15) scale(0.5800 0.5600)" fill="none" stroke="#ff0000" stroke-width="0.95" stroke-linejoin="round" stroke-linecap="round"><path transform="translate(0.00 0)" d="M0 -7.6 L2.2 -10 V0" vector-effect="non-scaling-stroke"/></g>
<line x1="96.6" y1="420.3" x2="106.19999999999999" y2="406.6" stroke="#ff0000" stroke-width="1.0" />
<g transform="translate(102.60 419.5) skewX(-15) scale(0.6600 0.6300)" fill="none" stroke="#ff0000" stroke-width="0.95" stroke-linejoin="round" stroke-linecap="round"><path transform="translate(0.00 0)" d="M0 -8.2 Q0.2 -10 1.9 -10 H2.7 Q4.6 -10 4.6 -8.1 V-7.6 Q4.6 -6.3 3.6 -5.3 L0 0 H4.6" vector-effect="non-scaling-stroke"/></g>
<line x1="132" y1="287" x2="132" y2="309.5" stroke="#5a5a5a" stroke-width="0.8" />
<line x1="127" y1="301" x2="144" y2="301" stroke="#5a5a5a" stroke-width="0.8" />
<g transform="translate(129.51 302.6) skewX(-15) scale(0.7488 0.7200)" fill="none" stroke="#ff0000" stroke-width="1.0" stroke-linejoin="round" stroke-linecap="round"><path transform="translate(0.00 0)" d="M0 -7.6 L2.2 -10 V0" vector-effect="non-scaling-stroke"/></g>
<g transform="translate(179.99 298.3) skewX(-15) scale(0.6739 0.6480)" fill="none" stroke="#ff0000" stroke-width="1.0" stroke-linejoin="round" stroke-linecap="round"><path transform="translate(0.00 0)" d="M0 -7.6 L2.2 -10 V0" vector-effect="non-scaling-stroke"/></g>
<line x1="172.2" y1="301" x2="192.7" y2="301" stroke="#5a5a5a" stroke-width="0.8" />
<g transform="translate(258.79 298.3) skewX(-15) scale(0.6739 0.6480)" fill="none" stroke="#ff0000" stroke-width="1.0" stroke-linejoin="round" stroke-linecap="round"><path transform="translate(0.00 0)" d="M0 -7.6 L2.2 -10 V0" vector-effect="non-scaling-stroke"/></g>
<line x1="251" y1="301" x2="271.5" y2="301" stroke="#5a5a5a" stroke-width="0.8" />
<rect x="436.8" y="286" width="62.7" height="9.5" stroke="none" fill="#dcdcdc" stroke-width="1"/>
<rect x="436.8" y="431.2" width="118.7" height="22.6" stroke="none" fill="#dcdcdc" stroke-width="1"/>
<line x1="499.5" y1="286" x2="499.5" y2="295.5" stroke="#000" stroke-width="1.2" />
<line x1="555.5" y1="431.2" x2="555.5" y2="453.8" stroke="#000" stroke-width="1.2" />
<line x1="436.8" y1="278" x2="436.8" y2="408.3" stroke="#000" stroke-width="1.3" />
<path d="M498 301 C498.5 350 517 395 556.3 426.2" stroke="#000" fill="none" stroke-width="1.3" />
<rect x="436.8" y="278" width="65.2" height="8" stroke="#ff00ff" fill="#fff" stroke-width="1.2"/>
<rect x="436.8" y="295.5" width="61.2" height="5.5" stroke="#ff00ff" fill="#fff" stroke-width="1.2"/>
<rect x="436.8" y="426.2" width="120.7" height="5.0" stroke="#ff00ff" fill="#fff" stroke-width="1.2"/>
<rect x="436.8" y="453.8" width="120.7" height="5.4" stroke="#ff00ff" fill="#fff" stroke-width="1.2"/>
<circle cx="441.3" cy="298.3" r="1.05" stroke="#ff00ff" fill="#ffc8ff" stroke-width="1.1"/>
<circle cx="492.5" cy="298.3" r="1.05" stroke="#ff00ff" fill="#ffc8ff" stroke-width="1.1"/>
<circle cx="441.8" cy="428.7" r="1.05" stroke="#ff00ff" fill="#ffc8ff" stroke-width="1.1"/>
<circle cx="441.8" cy="456.5" r="1.05" stroke="#ff00ff" fill="#ffc8ff" stroke-width="1.1"/>
<circle cx="469.3" cy="428.7" r="1.05" stroke="#ff00ff" fill="#ffc8ff" stroke-width="1.1"/>
<circle cx="469.3" cy="456.5" r="1.05" stroke="#ff00ff" fill="#ffc8ff" stroke-width="1.1"/>
<circle cx="496.8" cy="428.7" r="1.05" stroke="#ff00ff" fill="#ffc8ff" stroke-width="1.1"/>
<circle cx="496.8" cy="456.5" r="1.05" stroke="#ff00ff" fill="#ffc8ff" stroke-width="1.1"/>
<circle cx="524.3" cy="428.7" r="1.05" stroke="#ff00ff" fill="#ffc8ff" stroke-width="1.1"/>
<circle cx="524.3" cy="456.5" r="1.05" stroke="#ff00ff" fill="#ffc8ff" stroke-width="1.1"/>
<circle cx="552" cy="428.7" r="1.05" stroke="#ff00ff" fill="#ffc8ff" stroke-width="1.1"/>
<circle cx="552" cy="456.5" r="1.05" stroke="#ff00ff" fill="#ffc8ff" stroke-width="1.1"/>
<line x1="555.5" y1="440.5" x2="565" y2="440.5" stroke="#00ff00" stroke-width="1.2" />
<line x1="555.5" y1="444.3" x2="565" y2="444.3" stroke="#00ff00" stroke-width="1.2" />
<line x1="565" y1="440.5" x2="565" y2="444.3" stroke="#00ff00" stroke-width="1.2" />
<circle cx="568" cy="442.4" r="2.6" stroke="#00ff00" fill="none" stroke-width="1.1"/>
<path d="M436.8 408.3 H502 L527 448.3 V458.8 H436.8 Z" stroke="#0000ff" fill="none" stroke-width="1.3" />
<path d="M446.8 408.3 V393.8 H486.8 V408.3" stroke="#0000ff" fill="none" stroke-width="1.3" />
<line x1="436.6" y1="269.5" x2="502" y2="269.5" stroke="#5a5a5a" stroke-width="0.8" />
<line x1="436.6" y1="265.3" x2="436.6" y2="278" stroke="#5a5a5a" stroke-width="0.8" />
<line x1="502" y1="265.3" x2="502" y2="278" stroke="#5a5a5a" stroke-width="0.8" />
<g transform="translate(464.89 267.3) skewX(-15) scale(0.7488 0.7200)" fill="none" stroke="#ff0000" stroke-width="1.0" stroke-linejoin="round" stroke-linecap="round"><path transform="translate(0.00 0)" d="M0 -7.6 L2.2 -10 V0" vector-effect="non-scaling-stroke"/><path transform="translate(4.60 0)" d="M0 -10 H4.6 L2 -5.8 H2.7 Q4.6 -5.8 4.6 -3.9 V-1.9 Q4.6 0 2.7 0 H1.9 Q0.2 0 0 -1.7" vector-effect="non-scaling-stroke"/></g>
<line x1="446.8" y1="383" x2="486.8" y2="383" stroke="#5a5a5a" stroke-width="0.8" />
<line x1="446.8" y1="378.8" x2="446.8" y2="393" stroke="#5a5a5a" stroke-width="0.8" />
<line x1="486.8" y1="378.8" x2="486.8" y2="393" stroke="#5a5a5a" stroke-width="0.8" />
<g transform="translate(464.11 380.8) skewX(-15) scale(0.7488 0.7200)" fill="none" stroke="#ff0000" stroke-width="1.0" stroke-linejoin="round" stroke-linecap="round"><path transform="translate(0.00 0)" d="M1.9 -5.4 Q0.2 -5.4 0.2 -7.1 V-8.3 Q0.2 -10 1.9 -10 H2.7 Q4.4 -10 4.4 -8.3 V-7.1 Q4.4 -5.4 2.7 -5.4 Z M1.9 -5.4 Q0 -5.4 0 -3.5 V-1.9 Q0 0 1.9 0 H2.7 Q4.6 0 4.6 -1.9 V-3.5 Q4.6 -5.4 2.7 -5.4" vector-effect="non-scaling-stroke"/></g>
<line x1="436.8" y1="476.3" x2="527" y2="476.3" stroke="#5a5a5a" stroke-width="0.8" />
<line x1="527" y1="460" x2="527" y2="480.5" stroke="#5a5a5a" stroke-width="0.8" />
<g transform="translate(478.09 473.8) skewX(-15) scale(0.7488 0.7200)" fill="none" stroke="#ff0000" stroke-width="1.0" stroke-linejoin="round" stroke-linecap="round"><path transform="translate(0.00 0)" d="M0 -7.6 L2.2 -10 V0" vector-effect="non-scaling-stroke"/><path transform="translate(4.60 0)" d="M1.9 -5.4 Q0.2 -5.4 0.2 -7.1 V-8.3 Q0.2 -10 1.9 -10 H2.7 Q4.4 -10 4.4 -8.3 V-7.1 Q4.4 -5.4 2.7 -5.4 Z M1.9 -5.4 Q0 -5.4 0 -3.5 V-1.9 Q0 0 1.9 0 H2.7 Q4.6 0 4.6 -1.9 V-3.5 Q4.6 -5.4 2.7 -5.4" vector-effect="non-scaling-stroke"/></g>
<line x1="436.8" y1="486.3" x2="557.3" y2="486.3" stroke="#5a5a5a" stroke-width="0.8" />
<line x1="436.8" y1="460" x2="436.8" y2="490.8" stroke="#5a5a5a" stroke-width="0.8" />
<line x1="557.3" y1="460" x2="557.3" y2="490.8" stroke="#5a5a5a" stroke-width="0.8" />
<g transform="translate(492.12 483.8) skewX(-15) scale(0.7488 0.7200)" fill="none" stroke="#ff0000" stroke-width="1.0" stroke-linejoin="round" stroke-linecap="round"><path transform="translate(0.00 0)" d="M0 -8.2 Q0.2 -10 1.9 -10 H2.7 Q4.6 -10 4.6 -8.1 V-7.6 Q4.6 -6.3 3.6 -5.3 L0 0 H4.6" vector-effect="non-scaling-stroke"/><path transform="translate(7.00 0)" d="M2.6 -10 L0 -2.6 H4.8 M3.6 -5.4 V0" vector-effect="non-scaling-stroke"/></g>
<line x1="428" y1="393.8" x2="446.8" y2="393.8" stroke="#5a5a5a" stroke-width="0.8" />
<line x1="428" y1="458.8" x2="436" y2="458.8" stroke="#5a5a5a" stroke-width="0.8" />
<line x1="430" y1="393.8" x2="430" y2="420" stroke="#5a5a5a" stroke-width="0.8" />
<line x1="430" y1="433" x2="430" y2="458.8" stroke="#5a5a5a" stroke-width="0.8" />
<g transform="translate(425.09 430.5) skewX(-15) scale(0.7488 0.7200)" fill="none" stroke="#ff0000" stroke-width="1.0" stroke-linejoin="round" stroke-linecap="round"><path transform="translate(0.00 0)" d="M0 -7.6 L2.2 -10 V0" vector-effect="non-scaling-stroke"/><path transform="translate(4.60 0)" d="M0 -10 H4.6 L2 -5.8 H2.7 Q4.6 -5.8 4.6 -3.9 V-1.9 Q4.6 0 2.7 0 H1.9 Q0.2 0 0 -1.7" vector-effect="non-scaling-stroke"/></g>
<line x1="555" y1="416" x2="555" y2="426" stroke="#5a5a5a" stroke-width="0.8" />
<line x1="546" y1="420.8" x2="566" y2="420.8" stroke="#5a5a5a" stroke-width="0.8" />
<g transform="translate(551.60 412.3) skewX(-15) scale(0.5800 0.5600)" fill="none" stroke="#ff0000" stroke-width="0.95" stroke-linejoin="round" stroke-linecap="round"><path transform="translate(0.00 0)" d="M0 -7.6 L2.2 -10 V0" vector-effect="non-scaling-stroke"/></g>
<line x1="550.1" y1="419.7" x2="559.7" y2="406.0" stroke="#ff0000" stroke-width="1.0" />
<g transform="translate(556.10 418.9) skewX(-15) scale(0.6600 0.6300)" fill="none" stroke="#ff0000" stroke-width="0.95" stroke-linejoin="round" stroke-linecap="round"><path transform="translate(0.00 0)" d="M0 -8.2 Q0.2 -10 1.9 -10 H2.7 Q4.6 -10 4.6 -8.1 V-7.6 Q4.6 -6.3 3.6 -5.3 L0 0 H4.6" vector-effect="non-scaling-stroke"/></g>
<line x1="430" y1="427.5" x2="430" y2="459.5" stroke="#5a5a5a" stroke-width="0.8" />
<clipPath id="hc"><path d="M647.5 288.3 C648 335 641 370 625.3 393.3 H802.7 C787 370 780 335 780.5 288.3 Z"/></clipPath>
<g clip-path="url(#hc)" stroke="#00ff00" stroke-width="1.1">
<line x1="653.8" y1="248.3" x2="453.79999999999995" y2="448.3"/>
<line x1="676.3" y1="248.3" x2="476.29999999999995" y2="448.3"/>
<line x1="698.8" y1="248.3" x2="498.79999999999995" y2="448.3"/>
<line x1="721.3" y1="248.3" x2="521.3" y2="448.3"/>
<line x1="743.8" y1="248.3" x2="543.8" y2="448.3"/>
<line x1="766.3" y1="248.3" x2="566.3" y2="448.3"/>
<line x1="788.8" y1="248.3" x2="588.8" y2="448.3"/>
<line x1="811.3" y1="248.3" x2="611.3" y2="448.3"/>
<line x1="833.8" y1="248.3" x2="633.8" y2="448.3"/>
<line x1="856.3" y1="248.3" x2="656.3" y2="448.3"/>
<line x1="878.8" y1="248.3" x2="678.8" y2="448.3"/>
<line x1="901.3" y1="248.3" x2="701.3" y2="448.3"/>
<line x1="923.8" y1="248.3" x2="723.8" y2="448.3"/>
<line x1="946.3" y1="248.3" x2="746.3" y2="448.3"/>
<line x1="968.8" y1="248.3" x2="768.8" y2="448.3"/>
<line x1="991.3" y1="248.3" x2="791.3" y2="448.3"/>
<line x1="1013.8" y1="248.3" x2="813.8" y2="448.3"/>
<line x1="1036.3" y1="248.3" x2="836.3" y2="448.3"/>
</g>
<path d="M633.3 278.6 V285.8 H635.5 V295.5 H638 C638.5 340 630 378 594.6 426 L593 427.2 V431.3 H595 V453.5 H593 V458.5 H598 V436 H606.3 V426 C640 372 648 335 647.5 288.3 H780.5 C780 335 788 372 821.7 426 V436 H830 V458.5 H835 V453.5 H833 V431.3 H835 V427.2 L833.4 426 C798 378 789.5 340 790 295.5 H792.5 V285.8 H794.7 V278.6 Z" stroke="#111" fill="#dcdcdc" stroke-width="1.2" />
<rect x="595" y="431.3" width="3" height="22.2" stroke="#333" fill="#666" stroke-width="0.6"/>
<rect x="830" y="431.3" width="3" height="22.2" stroke="#333" fill="#666" stroke-width="0.6"/>
<line x1="625.3" y1="393.3" x2="802.7" y2="393.3" stroke="#00ff00" stroke-width="1.2" />
<path d="M596.8 458.8 V448.3 L635.8 408.4 H792.2 L831.2 448.3 V458.8 Z" stroke="#0000ff" fill="none" stroke-width="1.3" />
<rect x="595.6" y="448.5" width="2.4" height="10.3" stroke="none" fill="#0000ff" stroke-width="1"/>
<rect x="830" y="448.5" width="2.4" height="10.3" stroke="none" fill="#0000ff" stroke-width="1"/>
<path d="M693.8 408.3 V393.3 M733.6 393.3 V408.3" stroke="#0000ff" fill="none" stroke-width="1.3" />
<line x1="693.8" y1="393.3" x2="733.6" y2="393.3" stroke="#667" stroke-width="1" />
<line x1="693.8" y1="388.8" x2="693.8" y2="393.3" stroke="#5a5a5a" stroke-width="0.8" />
<line x1="733.6" y1="388.8" x2="733.6" y2="393.3" stroke="#5a5a5a" stroke-width="0.8" />
<line x1="633.3" y1="269.5" x2="794.4" y2="269.5" stroke="#5a5a5a" stroke-width="0.8" />
<line x1="633.3" y1="265" x2="633.3" y2="277.5" stroke="#5a5a5a" stroke-width="0.8" />
<line x1="794.4" y1="265" x2="794.4" y2="277.5" stroke="#5a5a5a" stroke-width="0.8" />
<g transform="translate(708.19 267.3) skewX(-15) scale(0.7488 0.7200)" fill="none" stroke="#ff0000" stroke-width="1.0" stroke-linejoin="round" stroke-linecap="round"><path transform="translate(0.00 0)" d="M0 -10 H4.6 L2 -5.8 H2.7 Q4.6 -5.8 4.6 -3.9 V-1.9 Q4.6 0 2.7 0 H1.9 Q0.2 0 0 -1.7" vector-effect="non-scaling-stroke"/><path transform="translate(7.00 0)" d="M0 -8.2 Q0.2 -10 1.9 -10 H2.7 Q4.6 -10 4.6 -8.1 V-7.6 Q4.6 -6.3 3.6 -5.3 L0 0 H4.6" vector-effect="non-scaling-stroke"/></g>
<line x1="713.8" y1="269.5" x2="713.8" y2="279" stroke="#5a5a5a" stroke-width="0.8" />
<line x1="713.8" y1="289" x2="713.8" y2="291" stroke="#5a5a5a" stroke-width="0.8" />
<line x1="713.8" y1="304" x2="713.8" y2="336" stroke="#5a5a5a" stroke-width="0.8" />
<line x1="713.8" y1="347" x2="713.8" y2="382" stroke="#5a5a5a" stroke-width="0.8" />
<line x1="713.8" y1="393.3" x2="713.8" y2="421" stroke="#5a5a5a" stroke-width="0.8" />
<line x1="713.8" y1="433" x2="713.8" y2="458.3" stroke="#5a5a5a" stroke-width="0.8" />
<g transform="translate(711.11 288) skewX(-15) scale(0.7488 0.7200)" fill="none" stroke="#ff0000" stroke-width="1.0" stroke-linejoin="round" stroke-linecap="round"><path transform="translate(0.00 0)" d="M0 -8.2 Q0.2 -10 1.9 -10 H2.7 Q4.6 -10 4.6 -8.1 V-7.6 Q4.6 -6.3 3.6 -5.3 L0 0 H4.6" vector-effect="non-scaling-stroke"/></g>
<line x1="647.5" y1="305" x2="779" y2="305" stroke="#5a5a5a" stroke-width="0.8" />
<g transform="translate(704.50 302.5) skewX(-15) scale(0.7488 0.7200)" fill="none" stroke="#ff0000" stroke-width="1.0" stroke-linejoin="round" stroke-linecap="round"><path transform="translate(0.00 0)" d="M0 -8.2 Q0.2 -10 1.9 -10 H2.7 Q4.6 -10 4.6 -8.1 V-7.6 Q4.6 -6.3 3.6 -5.3 L0 0 H4.6" vector-effect="non-scaling-stroke"/><path transform="translate(7.00 0)" d="M4.4 -8.4 Q4.2 -10 2.7 -10 H1.9 Q0 -10 0 -8.1 V-1.9 Q0 0 1.9 0 H2.7 Q4.6 0 4.6 -1.9 V-3.9 Q4.6 -5.8 2.7 -5.8 H1.9 Q0 -5.8 0 -3.9" vector-effect="non-scaling-stroke"/></g>
<g transform="translate(714.42 295.8) skewX(-15) scale(0.5800 0.5600)" fill="none" stroke="#ff0000" stroke-width="0.95" stroke-linejoin="round" stroke-linecap="round"><path transform="translate(0.00 0)" d="M0 -7.6 L2.2 -10 V0" vector-effect="non-scaling-stroke"/></g>
<line x1="712.91568" y1="303.2" x2="722.51568" y2="289.5" stroke="#ff0000" stroke-width="1.0" />
<g transform="translate(718.92 302.4) skewX(-15) scale(0.6600 0.6300)" fill="none" stroke="#ff0000" stroke-width="0.95" stroke-linejoin="round" stroke-linecap="round"><path transform="translate(0.00 0)" d="M2.6 -10 L0 -2.6 H4.8 M3.6 -5.4 V0" vector-effect="non-scaling-stroke"/></g>
<g transform="translate(709.39 345) skewX(-15) scale(0.7488 0.7200)" fill="none" stroke="#ff0000" stroke-width="1.0" stroke-linejoin="round" stroke-linecap="round"><path transform="translate(0.00 0)" d="M0 -8.2 Q0.2 -10 1.9 -10 H2.7 Q4.6 -10 4.6 -8.1 V-7.6 Q4.6 -6.3 3.6 -5.3 L0 0 H4.6" vector-effect="non-scaling-stroke"/><path transform="translate(7.00 0)" d="M0 -7.6 L2.2 -10 V0" vector-effect="non-scaling-stroke"/></g>
<g transform="translate(711.11 391.7) skewX(-15) scale(0.7488 0.7200)" fill="none" stroke="#ff0000" stroke-width="1.0" stroke-linejoin="round" stroke-linecap="round"><path transform="translate(0.00 0)" d="M1.9 -5.4 Q0.2 -5.4 0.2 -7.1 V-8.3 Q0.2 -10 1.9 -10 H2.7 Q4.4 -10 4.4 -8.3 V-7.1 Q4.4 -5.4 2.7 -5.4 Z M1.9 -5.4 Q0 -5.4 0 -3.5 V-1.9 Q0 0 1.9 0 H2.7 Q4.6 0 4.6 -1.9 V-3.5 Q4.6 -5.4 2.7 -5.4" vector-effect="non-scaling-stroke"/></g>
<g transform="translate(709.39 430.5) skewX(-15) scale(0.7488 0.7200)" fill="none" stroke="#ff0000" stroke-width="1.0" stroke-linejoin="round" stroke-linecap="round"><path transform="translate(0.00 0)" d="M0 -7.6 L2.2 -10 V0" vector-effect="non-scaling-stroke"/><path transform="translate(4.60 0)" d="M0 -10 H4.6 L2 -5.8 H2.7 Q4.6 -5.8 4.6 -3.9 V-1.9 Q4.6 0 2.7 0 H1.9 Q0.2 0 0 -1.7" vector-effect="non-scaling-stroke"/></g>
<g transform="translate(640.31 289.3) skewX(-15) scale(0.7488 0.7200)" fill="none" stroke="#ff0000" stroke-width="1.0" stroke-linejoin="round" stroke-linecap="round"><path transform="translate(0.00 0)" d="M0 -8.2 Q0.2 -10 1.9 -10 H2.7 Q4.6 -10 4.6 -8.1 V-7.6 Q4.6 -6.3 3.6 -5.3 L0 0 H4.6" vector-effect="non-scaling-stroke"/></g>
<line x1="628.8" y1="290.8" x2="656.3" y2="290.8" stroke="#5a5a5a" stroke-width="0.8" />
<g transform="translate(783.31 296.3) skewX(-15) scale(0.7488 0.7200)" fill="none" stroke="#ff0000" stroke-width="1.0" stroke-linejoin="round" stroke-linecap="round"><path transform="translate(0.00 0)" d="M0 -8.2 Q0.2 -10 1.9 -10 H2.7 Q4.6 -10 4.6 -8.1 V-7.6 Q4.6 -6.3 3.6 -5.3 L0 0 H4.6" vector-effect="non-scaling-stroke"/></g>
<line x1="771" y1="298.3" x2="799.5" y2="298.3" stroke="#5a5a5a" stroke-width="0.8" />
<line x1="633.6" y1="427.3" x2="633.6" y2="437.5" stroke="#5a5a5a" stroke-width="0.8" />
<line x1="633.6" y1="454" x2="633.6" y2="467.5" stroke="#5a5a5a" stroke-width="0.8" />
<line x1="606.3" y1="436.2" x2="638" y2="436.2" stroke="#5a5a5a" stroke-width="0.8" />
<line x1="626" y1="458.8" x2="640" y2="458.8" stroke="#5a5a5a" stroke-width="0.8" />
<g transform="translate(627.00 452.3) skewX(-15) scale(0.7488 0.7200)" fill="none" stroke="#ff0000" stroke-width="1.0" stroke-linejoin="round" stroke-linecap="round"><path transform="translate(0.00 0)" d="M2.6 -10 L0 -2.6 H4.8 M3.6 -5.4 V0" vector-effect="non-scaling-stroke"/></g>
<g transform="translate(631.82 445.6) skewX(-15) scale(0.5800 0.5600)" fill="none" stroke="#ff0000" stroke-width="0.95" stroke-linejoin="round" stroke-linecap="round"><path transform="translate(0.00 0)" d="M0 -7.6 L2.2 -10 V0" vector-effect="non-scaling-stroke"/></g>
<line x1="630.32384" y1="453.0" x2="639.92384" y2="439.3" stroke="#ff0000" stroke-width="1.0" />
<g transform="translate(636.32 452.2) skewX(-15) scale(0.6600 0.6300)" fill="none" stroke="#ff0000" stroke-width="0.95" stroke-linejoin="round" stroke-linecap="round"><path transform="translate(0.00 0)" d="M0 -8.2 Q0.2 -10 1.9 -10 H2.7 Q4.6 -10 4.6 -8.1 V-7.6 Q4.6 -6.3 3.6 -5.3 L0 0 H4.6" vector-effect="non-scaling-stroke"/></g>
<line x1="583.8" y1="473" x2="842.7" y2="473" stroke="#5a5a5a" stroke-width="0.8" />
<line x1="597" y1="460" x2="597" y2="477.6" stroke="#5a5a5a" stroke-width="0.8" />
<line x1="831" y1="460" x2="831" y2="477.6" stroke="#5a5a5a" stroke-width="0.8" />
<g transform="translate(704.30 470.5) skewX(-15) scale(0.7488 0.7200)" fill="none" stroke="#ff0000" stroke-width="1.0" stroke-linejoin="round" stroke-linecap="round"><path transform="translate(0.00 0)" d="M2.6 -10 L0 -2.6 H4.8 M3.6 -5.4 V0" vector-effect="non-scaling-stroke"/><path transform="translate(7.20 0)" d="M4.4 -8.4 Q4.2 -10 2.7 -10 H1.9 Q0 -10 0 -8.1 V-1.9 Q0 0 1.9 0 H2.7 Q4.6 0 4.6 -1.9 V-3.9 Q4.6 -5.8 2.7 -5.8 H1.9 Q0 -5.8 0 -3.9" vector-effect="non-scaling-stroke"/></g>
<g transform="translate(714.37 463.8) skewX(-15) scale(0.5800 0.5600)" fill="none" stroke="#ff0000" stroke-width="0.95" stroke-linejoin="round" stroke-linecap="round"><path transform="translate(0.00 0)" d="M0 -7.6 L2.2 -10 V0" vector-effect="non-scaling-stroke"/></g>
<line x1="712.8654399999999" y1="471.2" x2="722.46544" y2="457.5" stroke="#ff0000" stroke-width="1.0" />
<g transform="translate(718.87 470.4) skewX(-15) scale(0.6600 0.6300)" fill="none" stroke="#ff0000" stroke-width="0.95" stroke-linejoin="round" stroke-linecap="round"><path transform="translate(0.00 0)" d="M0 -8.2 Q0.2 -10 1.9 -10 H2.7 Q4.6 -10 4.6 -8.1 V-7.6 Q4.6 -6.3 3.6 -5.3 L0 0 H4.6" vector-effect="non-scaling-stroke"/></g>
<line x1="593.5" y1="486.2" x2="834.5" y2="486.2" stroke="#5a5a5a" stroke-width="0.8" />
<line x1="593.5" y1="459" x2="593.5" y2="490.6" stroke="#5a5a5a" stroke-width="0.8" />
<line x1="834.5" y1="459" x2="834.5" y2="490.6" stroke="#5a5a5a" stroke-width="0.8" />
<g transform="translate(708.42 483.8) skewX(-15) scale(0.7488 0.7200)" fill="none" stroke="#ff0000" stroke-width="1.0" stroke-linejoin="round" stroke-linecap="round"><path transform="translate(0.00 0)" d="M2.6 -10 L0 -2.6 H4.8 M3.6 -5.4 V0" vector-effect="non-scaling-stroke"/><path transform="translate(7.20 0)" d="M1.9 -5.4 Q0.2 -5.4 0.2 -7.1 V-8.3 Q0.2 -10 1.9 -10 H2.7 Q4.4 -10 4.4 -8.3 V-7.1 Q4.4 -5.4 2.7 -5.4 Z M1.9 -5.4 Q0 -5.4 0 -3.5 V-1.9 Q0 0 1.9 0 H2.7 Q4.6 0 4.6 -1.9 V-3.5 Q4.6 -5.4 2.7 -5.4" vector-effect="non-scaling-stroke"/></g>
<g transform="translate(590.30 463.7) skewX(-15) scale(0.5800 0.5600)" fill="none" stroke="#ff0000" stroke-width="0.95" stroke-linejoin="round" stroke-linecap="round"><path transform="translate(0.00 0)" d="M0 -10 H4.6 L2 -5.8 H2.7 Q4.6 -5.8 4.6 -3.9 V-1.9 Q4.6 0 2.7 0 H1.9 Q0.2 0 0 -1.7" vector-effect="non-scaling-stroke"/></g>
<line x1="588.8" y1="471.09999999999997" x2="598.4" y2="457.4" stroke="#ff0000" stroke-width="1.0" />
<g transform="translate(594.80 470.29999999999995) skewX(-15) scale(0.6600 0.6300)" fill="none" stroke="#ff0000" stroke-width="0.95" stroke-linejoin="round" stroke-linecap="round"><path transform="translate(0.00 0)" d="M2.6 -10 L0 -2.6 H4.8 M3.6 -5.4 V0" vector-effect="non-scaling-stroke"/></g>
<g transform="translate(827.30 463.7) skewX(-15) scale(0.5800 0.5600)" fill="none" stroke="#ff0000" stroke-width="0.95" stroke-linejoin="round" stroke-linecap="round"><path transform="translate(0.00 0)" d="M0 -10 H4.6 L2 -5.8 H2.7 Q4.6 -5.8 4.6 -3.9 V-1.9 Q4.6 0 2.7 0 H1.9 Q0.2 0 0 -1.7" vector-effect="non-scaling-stroke"/></g>
<line x1="825.8" y1="471.09999999999997" x2="835.4" y2="457.4" stroke="#ff0000" stroke-width="1.0" />
<g transform="translate(831.80 470.29999999999995) skewX(-15) scale(0.6600 0.6300)" fill="none" stroke="#ff0000" stroke-width="0.95" stroke-linejoin="round" stroke-linecap="round"><path transform="translate(0.00 0)" d="M2.6 -10 L0 -2.6 H4.8 M3.6 -5.4 V0" vector-effect="non-scaling-stroke"/></g>
<line x1="628.3" y1="499.8" x2="672.6" y2="499.8" stroke="#000" stroke-width="1" />
<g transform="translate(680.60 503.6) skewX(-15) scale(0.5309 0.5200)" fill="none" stroke="#000" stroke-width="1.1" stroke-linejoin="round" stroke-linecap="round"><path transform="translate(0.00 0)" d="M0 0 V-10 H3.2 Q5.1 -10 5.1 -8 V-7.3 Q5.1 -5.3 3.2 -5.3 H0 M3.2 -5.3 H3.4 Q5.4 -5.3 5.4 -3.3 V-2 Q5.4 0 3.4 0 H0" vector-effect="non-scaling-stroke"/><path transform="translate(8.10 0)" d="M0 -10 V-1.5 Q0 0 1.5 0" vector-effect="non-scaling-stroke"/><path transform="translate(12.30 0)" d="M0.2 -5.8 Q0.5 -7 1.8 -7 H2.6 Q4.4 -7 4.4 -5.2 V0 M4.4 -4 H1.8 Q0 -4 0 -2.2 V-1.8 Q0 0 1.8 0 H2.6 Q4.4 0 4.4 -1.8" vector-effect="non-scaling-stroke"/><path transform="translate(19.40 0)" d="M4.2 -5.5 Q4 -7 2.5 -7 H1.8 Q0 -7 0 -5.2 V-1.8 Q0 0 1.8 0 H2.5 Q4 0 4.2 -1.5" vector-effect="non-scaling-stroke"/><path transform="translate(26.30 0)" d="M0 0 V-10 M0 -2.6 L4 -7 M1.5 -4.2 L4.2 0" vector-effect="non-scaling-stroke"/><path transform="translate(39.10 0)" d="M4.8 -8.2 Q4.6 -10 2.9 -10 H1.9 Q0 -10 0 -8.1 V-7.2 Q0 -5.6 1.6 -5.2 L3.4 -4.7 Q5 -4.3 5 -2.7 V-1.9 Q5 0 3.1 0 H1.9 Q0.2 0 0 -1.8" vector-effect="non-scaling-stroke"/><path transform="translate(46.80 0)" d="M1.4 -10 V-1.7 Q1.4 0 3.1 0 H3.4 M0 -7 H3.4" vector-effect="non-scaling-stroke"/><path transform="translate(52.90 0)" d="M0.2 -5.8 Q0.5 -7 1.8 -7 H2.6 Q4.4 -7 4.4 -5.2 V0 M4.4 -4 H1.8 Q0 -4 0 -2.2 V-1.8 Q0 0 1.8 0 H2.6 Q4.4 0 4.4 -1.8" vector-effect="non-scaling-stroke"/><path transform="translate(60.00 0)" d="M0 0 V-7 M0 -9 V-9.9" vector-effect="non-scaling-stroke"/><path transform="translate(63.10 0)" d="M0 0 V-7 M0 -5.2 Q0 -7 1.8 -7 H2.6 Q4.4 -7 4.4 -5.2 V0" vector-effect="non-scaling-stroke"/><path transform="translate(70.20 0)" d="M0 -10 V-1.5 Q0 0 1.5 0" vector-effect="non-scaling-stroke"/><path transform="translate(74.40 0)" d="M0 -3.4 H4.4 V-5.2 Q4.4 -7 2.6 -7 H1.8 Q0 -7 0 -5.2 V-1.8 Q0 0 1.8 0 H2.6 Q4.2 0 4.4 -1.4" vector-effect="non-scaling-stroke"/><path transform="translate(81.50 0)" d="M4.2 -5.6 Q4 -7 2.6 -7 H1.7 Q0 -7 0 -5.4 Q0 -4 1.4 -3.7 L3 -3.3 Q4.4 -3 4.4 -1.6 Q4.4 0 2.7 0 H1.7 Q0.2 0 0 -1.4" vector-effect="non-scaling-stroke"/><path transform="translate(88.60 0)" d="M4.2 -5.6 Q4 -7 2.6 -7 H1.7 Q0 -7 0 -5.4 Q0 -4 1.4 -3.7 L3 -3.3 Q4.4 -3 4.4 -1.6 Q4.4 0 2.7 0 H1.7 Q0.2 0 0 -1.4" vector-effect="non-scaling-stroke"/><path transform="translate(101.60 0)" d="M4.8 -8.2 Q4.6 -10 2.9 -10 H1.9 Q0 -10 0 -8.1 V-7.2 Q0 -5.6 1.6 -5.2 L3.4 -4.7 Q5 -4.3 5 -2.7 V-1.9 Q5 0 3.1 0 H1.9 Q0.2 0 0 -1.8" vector-effect="non-scaling-stroke"/><path transform="translate(109.30 0)" d="M1.4 -10 V-1.7 Q1.4 0 3.1 0 H3.4 M0 -7 H3.4" vector-effect="non-scaling-stroke"/><path transform="translate(115.40 0)" d="M0 -3.4 H4.4 V-5.2 Q4.4 -7 2.6 -7 H1.8 Q0 -7 0 -5.2 V-1.8 Q0 0 1.8 0 H2.6 Q4.2 0 4.4 -1.4" vector-effect="non-scaling-stroke"/><path transform="translate(122.50 0)" d="M0 -3.4 H4.4 V-5.2 Q4.4 -7 2.6 -7 H1.8 Q0 -7 0 -5.2 V-1.8 Q0 0 1.8 0 H2.6 Q4.2 0 4.4 -1.4" vector-effect="non-scaling-stroke"/><path transform="translate(129.60 0)" d="M0 -10 V-1.5 Q0 0 1.5 0" vector-effect="non-scaling-stroke"/></g>
<line x1="628.3" y1="522.2" x2="672.6" y2="522.2" stroke="#0000ff" stroke-width="1.2" />
<g transform="translate(679.00 525) skewX(-15) scale(0.6629 0.6200)" fill="none" stroke="#000" stroke-width="1.1" stroke-linejoin="round" stroke-linecap="round"><path transform="translate(0.00 0)" d="M2.6 -10 L0 -2.6 H4.8 M3.6 -5.4 V0" vector-effect="non-scaling-stroke"/><path transform="translate(7.50 0)" d="M1.9 -5.4 Q0.2 -5.4 0.2 -7.1 V-8.3 Q0.2 -10 1.9 -10 H2.7 Q4.4 -10 4.4 -8.3 V-7.1 Q4.4 -5.4 2.7 -5.4 Z M1.9 -5.4 Q0 -5.4 0 -3.5 V-1.9 Q0 0 1.9 0 H2.7 Q4.6 0 4.6 -1.9 V-3.5 Q4.6 -5.4 2.7 -5.4" vector-effect="non-scaling-stroke"/><path transform="translate(14.80 0)" d="M0 -10 V-7.5 M1.6 -10 V-7.5" vector-effect="non-scaling-stroke"/><path transform="translate(19.10 0)" d="M0 -10 V0 H4.2" vector-effect="non-scaling-stroke"/><path transform="translate(26.00 0)" d="M0 0 V-7 M0 -9 V-9.9" vector-effect="non-scaling-stroke"/><path transform="translate(29.10 0)" d="M0 0 V-7 M0 -5.2 Q0 -7 1.8 -7 H2.6 Q4.4 -7 4.4 -5.2 V0" vector-effect="non-scaling-stroke"/><path transform="translate(36.20 0)" d="M0 -3.4 H4.4 V-5.2 Q4.4 -7 2.6 -7 H1.8 Q0 -7 0 -5.2 V-1.8 Q0 0 1.8 0 H2.6 Q4.2 0 4.4 -1.4" vector-effect="non-scaling-stroke"/><path transform="translate(43.30 0)" d="M0 0 V-7 M0 -5 Q0 -7 2 -7 H3.2" vector-effect="non-scaling-stroke"/><path transform="translate(55.10 0)" d="M0 -4 H5 M2.5 -6.5 V-1.5" vector-effect="non-scaling-stroke"/><path transform="translate(68.70 0)" d="M0 -7.6 L2.2 -10 V0" vector-effect="non-scaling-stroke"/><path transform="translate(73.60 0)" d="M0 -7.6 L2.2 -10 V0" vector-effect="non-scaling-stroke"/><path transform="translate(78.50 0)" d="M4.4 -10 H0.4 L0 -5.6 Q0.8 -6.2 1.9 -6.2 H2.7 Q4.6 -6.2 4.6 -4.3 V-1.9 Q4.6 0 2.7 0 H1.9 Q0.2 0 0 -1.7" vector-effect="non-scaling-stroke"/><path transform="translate(85.80 0)" d="M1.9 0 Q0 0 0 -1.9 V-8.1 Q0 -10 1.9 -10 H2.7 Q4.6 -10 4.6 -8.1 V-1.9 Q4.6 0 2.7 0 Z" vector-effect="non-scaling-stroke"/><path transform="translate(93.10 0)" d="M5 -8 Q4.8 -10 3 -10 H1.9 Q0 -10 0 -8.1 V-1.9 Q0 0 1.9 0 H3 Q4.8 0 5 -2" vector-effect="non-scaling-stroke"/><path transform="translate(100.80 0)" d="M0 0 V-10 H4.6 M0 -5.2 H3.4" vector-effect="non-scaling-stroke"/><path transform="translate(108.10 0)" d="M0 0 V-10 L3.2 -3 L6.4 -10 V0" vector-effect="non-scaling-stroke"/><path transform="translate(117.20 0)" d="M0 0 V-10" vector-effect="non-scaling-stroke"/><path transform="translate(120.30 0)" d="M0 0 V-7 M0 -5.2 Q0 -7 1.8 -7 H2.6 Q4.4 -7 4.4 -5.2 V0" vector-effect="non-scaling-stroke"/><path transform="translate(127.40 0)" d="M1.4 -10 V-1.7 Q1.4 0 3.1 0 H3.4 M0 -7 H3.4" vector-effect="non-scaling-stroke"/><path transform="translate(133.50 0)" d="M0 -3.4 H4.4 V-5.2 Q4.4 -7 2.6 -7 H1.8 Q0 -7 0 -5.2 V-1.8 Q0 0 1.8 0 H2.6 Q4.2 0 4.4 -1.4" vector-effect="non-scaling-stroke"/><path transform="translate(140.60 0)" d="M0 0 V-7 M0 -5 Q0 -7 2 -7 H3.2" vector-effect="non-scaling-stroke"/><path transform="translate(146.50 0)" d="M0 0 V-7 M0 -5.2 Q0 -7 1.8 -7 H2.6 Q4.4 -7 4.4 -5.2 V0" vector-effect="non-scaling-stroke"/><path transform="translate(153.60 0)" d="M0.2 -5.8 Q0.5 -7 1.8 -7 H2.6 Q4.4 -7 4.4 -5.2 V0 M4.4 -4 H1.8 Q0 -4 0 -2.2 V-1.8 Q0 0 1.8 0 H2.6 Q4.4 0 4.4 -1.8" vector-effect="non-scaling-stroke"/><path transform="translate(160.70 0)" d="M0 -10 V-1.5 Q0 0 1.5 0" vector-effect="non-scaling-stroke"/><path transform="translate(170.80 0)" d="M0 0 V-10 L3.2 -3 L6.4 -10 V0" vector-effect="non-scaling-stroke"/><path transform="translate(179.90 0)" d="M1.8 0 Q0 0 0 -1.8 V-5.2 Q0 -7 1.8 -7 H2.6 Q4.4 -7 4.4 -5.2 V-1.8 Q4.4 0 2.6 0 Z" vector-effect="non-scaling-stroke"/><path transform="translate(187.00 0)" d="M1.4 -10 V-1.7 Q1.4 0 3.1 0 H3.4 M0 -7 H3.4" vector-effect="non-scaling-stroke"/><path transform="translate(193.10 0)" d="M1.8 0 Q0 0 0 -1.8 V-5.2 Q0 -7 1.8 -7 H2.6 Q4.4 -7 4.4 -5.2 V-1.8 Q4.4 0 2.6 0 Z" vector-effect="non-scaling-stroke"/><path transform="translate(200.20 0)" d="M0 0 V-7 M0 -5 Q0 -7 2 -7 H3.2" vector-effect="non-scaling-stroke"/></g>
<g transform="translate(678.20 536.7) skewX(-15) scale(0.6503 0.6200)" fill="none" stroke="#000" stroke-width="1.1" stroke-linejoin="round" stroke-linecap="round"><path transform="translate(0.00 0)" d="M1.9 -5.4 Q0.2 -5.4 0.2 -7.1 V-8.3 Q0.2 -10 1.9 -10 H2.7 Q4.4 -10 4.4 -8.3 V-7.1 Q4.4 -5.4 2.7 -5.4 Z M1.9 -5.4 Q0 -5.4 0 -3.5 V-1.9 Q0 0 1.9 0 H2.7 Q4.6 0 4.6 -1.9 V-3.5 Q4.6 -5.4 2.7 -5.4" vector-effect="non-scaling-stroke"/><path transform="translate(7.30 0)" d="M0 -10 V-7.5 M1.6 -10 V-7.5" vector-effect="non-scaling-stroke"/><path transform="translate(17.50 0)" d="M0 0 V-10 H3.2 Q5.1 -10 5.1 -8.1 V-6.6 Q5.1 -4.7 3.2 -4.7 H0 M3 -4.7 L5.3 0" vector-effect="non-scaling-stroke"/><path transform="translate(25.50 0)" d="M1.8 0 Q0 0 0 -1.8 V-5.2 Q0 -7 1.8 -7 H2.6 Q4.4 -7 4.4 -5.2 V-1.8 Q4.4 0 2.6 0 Z" vector-effect="non-scaling-stroke"/><path transform="translate(32.60 0)" d="M0 -7 V-1.8 Q0 0 1.8 0 H2.6 Q4.4 0 4.4 -1.8 M4.4 -7 V0" vector-effect="non-scaling-stroke"/><path transform="translate(39.70 0)" d="M0 0 V-7 M0 -5.2 Q0 -7 1.8 -7 H2.6 Q4.4 -7 4.4 -5.2 V0" vector-effect="non-scaling-stroke"/><path transform="translate(46.80 0)" d="M4.4 0 V-10 M4.4 -5.2 Q4.4 -7 2.6 -7 H1.8 Q0 -7 0 -5.2 V-1.8 Q0 0 1.8 0 H2.6 Q4.4 0 4.4 -1.8" vector-effect="non-scaling-stroke"/><path transform="translate(59.80 0)" d="M0 0 V-10 H3 Q5.2 -10 5.2 -7.8 V-2.2 Q5.2 0 3 0 Z" vector-effect="non-scaling-stroke"/><path transform="translate(67.70 0)" d="M0 -7 V-1.8 Q0 0 1.8 0 H2.6 Q4.4 0 4.4 -1.8 M4.4 -7 V0" vector-effect="non-scaling-stroke"/><path transform="translate(74.80 0)" d="M4.2 -5.5 Q4 -7 2.5 -7 H1.8 Q0 -7 0 -5.2 V-1.8 Q0 0 1.8 0 H2.5 Q4 0 4.2 -1.5" vector-effect="non-scaling-stroke"/><path transform="translate(81.70 0)" d="M1.4 -10 V-1.7 Q1.4 0 3.1 0 H3.4 M0 -7 H3.4" vector-effect="non-scaling-stroke"/></g>
<line x1="628.3" y1="546.6" x2="672.6" y2="546.6" stroke="#ff00ff" stroke-width="1.3" />
<line x1="628.3" y1="551.2" x2="672.6" y2="551.2" stroke="#ff00ff" stroke-width="1.3" />
<circle cx="634.5" cy="548.9" r="1.05" stroke="#ff00ff" fill="#ffc8ff" stroke-width="1.1"/>
<circle cx="648.5" cy="548.9" r="1.05" stroke="#ff00ff" fill="#ffc8ff" stroke-width="1.1"/>
<circle cx="664.1" cy="548.9" r="1.05" stroke="#ff00ff" fill="#ffc8ff" stroke-width="1.1"/>
<g transform="translate(677.60 551.8) skewX(-15) scale(0.6734 0.6600)" fill="none" stroke="#000" stroke-width="1.1" stroke-linejoin="round" stroke-linecap="round"><path transform="translate(0.00 0)" d="M0 0 V-10 H3.2 Q5.1 -10 5.1 -8 V-7.3 Q5.1 -5.3 3.2 -5.3 H0 M3.2 -5.3 H3.4 Q5.4 -5.3 5.4 -3.3 V-2 Q5.4 0 3.4 0 H0" vector-effect="non-scaling-stroke"/><path transform="translate(8.10 0)" d="M0 0 V-7 M0 -5 Q0 -7 2 -7 H3.2" vector-effect="non-scaling-stroke"/><path transform="translate(14.00 0)" d="M0 -7 V-1.8 Q0 0 1.8 0 H2.6 Q4.4 0 4.4 -1.8 M4.4 -7 V0" vector-effect="non-scaling-stroke"/><path transform="translate(21.10 0)" d="M4.2 -5.6 Q4 -7 2.6 -7 H1.7 Q0 -7 0 -5.4 Q0 -4 1.4 -3.7 L3 -3.3 Q4.4 -3 4.4 -1.6 Q4.4 0 2.7 0 H1.7 Q0.2 0 0 -1.4" vector-effect="non-scaling-stroke"/><path transform="translate(28.20 0)" d="M0 0 V-10 M0 -5.2 Q0 -7 1.8 -7 H2.6 Q4.4 -7 4.4 -5.2 V0" vector-effect="non-scaling-stroke"/><path transform="translate(35.30 0)" d="M0 -3.4 H4.4 V-5.2 Q4.4 -7 2.6 -7 H1.8 Q0 -7 0 -5.2 V-1.8 Q0 0 1.8 0 H2.6 Q4.2 0 4.4 -1.4" vector-effect="non-scaling-stroke"/><path transform="translate(42.40 0)" d="M4.4 0 V-10 M4.4 -5.2 Q4.4 -7 2.6 -7 H1.8 Q0 -7 0 -5.2 V-1.8 Q0 0 1.8 0 H2.6 Q4.4 0 4.4 -1.8" vector-effect="non-scaling-stroke"/><path transform="translate(55.40 0)" d="M0 0 V-10 H3.2 Q5.1 -10 5.1 -8 V-7.3 Q5.1 -5.3 3.2 -5.3 H0 M3.2 -5.3 H3.4 Q5.4 -5.3 5.4 -3.3 V-2 Q5.4 0 3.4 0 H0" vector-effect="non-scaling-stroke"/><path transform="translate(63.50 0)" d="M0 0 V-7 M0 -5 Q0 -7 2 -7 H3.2" vector-effect="non-scaling-stroke"/><path transform="translate(69.40 0)" d="M0.2 -5.8 Q0.5 -7 1.8 -7 H2.6 Q4.4 -7 4.4 -5.2 V0 M4.4 -4 H1.8 Q0 -4 0 -2.2 V-1.8 Q0 0 1.8 0 H2.6 Q4.4 0 4.4 -1.8" vector-effect="non-scaling-stroke"/><path transform="translate(76.50 0)" d="M4.2 -5.6 Q4 -7 2.6 -7 H1.7 Q0 -7 0 -5.4 Q0 -4 1.4 -3.7 L3 -3.3 Q4.4 -3 4.4 -1.6 Q4.4 0 2.7 0 H1.7 Q0.2 0 0 -1.4" vector-effect="non-scaling-stroke"/><path transform="translate(83.60 0)" d="M4.2 -5.6 Q4 -7 2.6 -7 H1.7 Q0 -7 0 -5.4 Q0 -4 1.4 -3.7 L3 -3.3 Q4.4 -3 4.4 -1.6 Q4.4 0 2.7 0 H1.7 Q0.2 0 0 -1.4" vector-effect="non-scaling-stroke"/></g>
<rect x="628.3" y="563.4" width="44.3" height="4.2" stroke="#000" fill="#dcdcdc" stroke-width="1.2"/>
<g transform="translate(677.60 566.6) skewX(-15) scale(0.5367 0.5200)" fill="none" stroke="#000" stroke-width="1.1" stroke-linejoin="round" stroke-linecap="round"><path transform="translate(0.00 0)" d="M0 0 V-10 H3.2 Q5.1 -10 5.1 -8 V-7.3 Q5.1 -5.3 3.2 -5.3 H0 M3.2 -5.3 H3.4 Q5.4 -5.3 5.4 -3.3 V-2 Q5.4 0 3.4 0 H0" vector-effect="non-scaling-stroke"/><path transform="translate(8.10 0)" d="M0 0 V-7 M0 -5 Q0 -7 2 -7 H3.2" vector-effect="non-scaling-stroke"/><path transform="translate(14.00 0)" d="M0 -7 V-1.8 Q0 0 1.8 0 H2.6 Q4.4 0 4.4 -1.8 M4.4 -7 V0" vector-effect="non-scaling-stroke"/><path transform="translate(21.10 0)" d="M4.2 -5.6 Q4 -7 2.6 -7 H1.7 Q0 -7 0 -5.4 Q0 -4 1.4 -3.7 L3 -3.3 Q4.4 -3 4.4 -1.6 Q4.4 0 2.7 0 H1.7 Q0.2 0 0 -1.4" vector-effect="non-scaling-stroke"/><path transform="translate(28.20 0)" d="M0 0 V-10 M0 -5.2 Q0 -7 1.8 -7 H2.6 Q4.4 -7 4.4 -5.2 V0" vector-effect="non-scaling-stroke"/><path transform="translate(35.30 0)" d="M0 -3.4 H4.4 V-5.2 Q4.4 -7 2.6 -7 H1.8 Q0 -7 0 -5.2 V-1.8 Q0 0 1.8 0 H2.6 Q4.2 0 4.4 -1.4" vector-effect="non-scaling-stroke"/><path transform="translate(42.40 0)" d="M4.4 0 V-10 M4.4 -5.2 Q4.4 -7 2.6 -7 H1.8 Q0 -7 0 -5.2 V-1.8 Q0 0 1.8 0 H2.6 Q4.4 0 4.4 -1.8" vector-effect="non-scaling-stroke"/><path transform="translate(55.40 0)" d="M4.8 -8.2 Q4.6 -10 2.9 -10 H1.9 Q0 -10 0 -8.1 V-7.2 Q0 -5.6 1.6 -5.2 L3.4 -4.7 Q5 -4.3 5 -2.7 V-1.9 Q5 0 3.1 0 H1.9 Q0.2 0 0 -1.8" vector-effect="non-scaling-stroke"/><path transform="translate(63.10 0)" d="M1.4 -10 V-1.7 Q1.4 0 3.1 0 H3.4 M0 -7 H3.4" vector-effect="non-scaling-stroke"/><path transform="translate(69.20 0)" d="M0.2 -5.8 Q0.5 -7 1.8 -7 H2.6 Q4.4 -7 4.4 -5.2 V0 M4.4 -4 H1.8 Q0 -4 0 -2.2 V-1.8 Q0 0 1.8 0 H2.6 Q4.4 0 4.4 -1.8" vector-effect="non-scaling-stroke"/><path transform="translate(76.30 0)" d="M0 0 V-7 M0 -9 V-9.9" vector-effect="non-scaling-stroke"/><path transform="translate(79.40 0)" d="M0 0 V-7 M0 -5.2 Q0 -7 1.8 -7 H2.6 Q4.4 -7 4.4 -5.2 V0" vector-effect="non-scaling-stroke"/><path transform="translate(86.50 0)" d="M0 -10 V-1.5 Q0 0 1.5 0" vector-effect="non-scaling-stroke"/><path transform="translate(90.70 0)" d="M0 -3.4 H4.4 V-5.2 Q4.4 -7 2.6 -7 H1.8 Q0 -7 0 -5.2 V-1.8 Q0 0 1.8 0 H2.6 Q4.2 0 4.4 -1.4" vector-effect="non-scaling-stroke"/><path transform="translate(97.80 0)" d="M4.2 -5.6 Q4 -7 2.6 -7 H1.7 Q0 -7 0 -5.4 Q0 -4 1.4 -3.7 L3 -3.3 Q4.4 -3 4.4 -1.6 Q4.4 0 2.7 0 H1.7 Q0.2 0 0 -1.4" vector-effect="non-scaling-stroke"/><path transform="translate(104.90 0)" d="M4.2 -5.6 Q4 -7 2.6 -7 H1.7 Q0 -7 0 -5.4 Q0 -4 1.4 -3.7 L3 -3.3 Q4.4 -3 4.4 -1.6 Q4.4 0 2.7 0 H1.7 Q0.2 0 0 -1.4" vector-effect="non-scaling-stroke"/><path transform="translate(117.90 0)" d="M4.8 -8.2 Q4.6 -10 2.9 -10 H1.9 Q0 -10 0 -8.1 V-7.2 Q0 -5.6 1.6 -5.2 L3.4 -4.7 Q5 -4.3 5 -2.7 V-1.9 Q5 0 3.1 0 H1.9 Q0.2 0 0 -1.8" vector-effect="non-scaling-stroke"/><path transform="translate(125.60 0)" d="M1.4 -10 V-1.7 Q1.4 0 3.1 0 H3.4 M0 -7 H3.4" vector-effect="non-scaling-stroke"/><path transform="translate(131.70 0)" d="M0 -3.4 H4.4 V-5.2 Q4.4 -7 2.6 -7 H1.8 Q0 -7 0 -5.2 V-1.8 Q0 0 1.8 0 H2.6 Q4.2 0 4.4 -1.4" vector-effect="non-scaling-stroke"/><path transform="translate(138.80 0)" d="M0 -3.4 H4.4 V-5.2 Q4.4 -7 2.6 -7 H1.8 Q0 -7 0 -5.2 V-1.8 Q0 0 1.8 0 H2.6 Q4.2 0 4.4 -1.4" vector-effect="non-scaling-stroke"/><path transform="translate(145.90 0)" d="M0 -10 V-1.5 Q0 0 1.5 0" vector-effect="non-scaling-stroke"/></g>
<line x1="628.3" y1="577" x2="672.6" y2="577" stroke="#00ff00" stroke-width="1.2" />
<line x1="628.3" y1="581.3" x2="672.6" y2="581.3" stroke="#00ff00" stroke-width="1.2" />
<g transform="translate(677.60 581.3) skewX(-15) scale(0.6487 0.6600)" fill="none" stroke="#000" stroke-width="1.1" stroke-linejoin="round" stroke-linecap="round"><path transform="translate(0.00 0)" d="M0 0 V-10 H3.2 Q5.1 -10 5.1 -8.1 V-6.6 Q5.1 -4.7 3.2 -4.7 H0" vector-effect="non-scaling-stroke"/><path transform="translate(7.80 0)" d="M1.8 0 Q0 0 0 -1.8 V-5.2 Q0 -7 1.8 -7 H2.6 Q4.4 -7 4.4 -5.2 V-1.8 Q4.4 0 2.6 0 Z" vector-effect="non-scaling-stroke"/><path transform="translate(14.90 0)" d="M1.4 -10 V-1.7 Q1.4 0 3.1 0 H3.4 M0 -7 H3.4" vector-effect="non-scaling-stroke"/><path transform="translate(26.90 0)" d="M0 0 V-10 H3.2 Q5.1 -10 5.1 -8.1 V-6.6 Q5.1 -4.7 3.2 -4.7 H0 M3 -4.7 L5.3 0" vector-effect="non-scaling-stroke"/><path transform="translate(34.90 0)" d="M0.2 -5.8 Q0.5 -7 1.8 -7 H2.6 Q4.4 -7 4.4 -5.2 V0 M4.4 -4 H1.8 Q0 -4 0 -2.2 V-1.8 Q0 0 1.8 0 H2.6 Q4.4 0 4.4 -1.8" vector-effect="non-scaling-stroke"/><path transform="translate(42.00 0)" d="M0 0 V-7 M0 -9 V-9.9" vector-effect="non-scaling-stroke"/><path transform="translate(45.10 0)" d="M0 -10 V-1.5 Q0 0 1.5 0" vector-effect="non-scaling-stroke"/></g>
<path d="M141.3 604.5 H302 V669.3 H141.3 Z M151.3 609.3 V659.5 H292.5 V609.3 Z" stroke="#000" fill="#dcdcdc" stroke-width="1.2" fill-rule="evenodd"/>
<rect x="101.3" y="604.5" width="241.2" height="120.0" stroke="#000" fill="none" stroke-width="1.3"/>
<path d="M103.8 604.5 V721.9 H340.1 V604.5" stroke="#111" fill="none" stroke-width="1.0" />
<line x1="141.3" y1="669.3" x2="103.8" y2="721.9" stroke="#000" stroke-width="1.2" />
<line x1="302" y1="669.3" x2="340.1" y2="721.9" stroke="#000" stroke-width="1.2" />
<path transform="translate(205.3 642.5) skewX(-15) scale(1.1300)" d="M1.9 0 Q0 0 0 -1.9 V-8.1 Q0 -10 1.9 -10 H2.8 Q4.7 -10 4.7 -8.1 V-1.9 Q4.7 0 2.8 0 Z M7.9 0 V-10 H10.9 Q12.8 -10 12.8 -8.1 V-6.6 Q12.8 -4.7 10.9 -4.7 H7.9 M20.7 0 H16.4 V-10 H20.7 M16.4 -5.2 H19.7 M23.8 0 V-10 L29 0 V-10" fill="none" stroke="#111" stroke-width="0.796" stroke-linejoin="round" stroke-linecap="round"/>
<line x1="112" y1="734.3" x2="331.5" y2="734.3" stroke="#00ff00" stroke-width="1.2" />
<line x1="112" y1="738.3" x2="331.5" y2="738.3" stroke="#00ff00" stroke-width="1.2" />
<path d="M112 734.3 V738.3 M331.5 734.3 V738.3" stroke="#00ff00" fill="none" stroke-width="1.2" />
<circle cx="107.8" cy="736.4" r="2.5" stroke="#00ff00" fill="none" stroke-width="1.1"/>
<circle cx="335.6" cy="736.4" r="2.5" stroke="#00ff00" fill="none" stroke-width="1.1"/>
<path d="M110.3 735.4 H112 M110.3 737.4 H112 M331.5 735.4 H333.1 M331.5 737.4 H333.1" stroke="#00ff00" fill="none" stroke-width="1.0" />
<line x1="181.2" y1="724.5" x2="181.2" y2="734.3" stroke="#00ff00" stroke-width="1.1" />
<line x1="183.2" y1="724.5" x2="183.2" y2="734.3" stroke="#00ff00" stroke-width="1.1" />
<rect x="180.39999999999998" y="734.3" width="3.6" height="4.0" stroke="#00ff00" fill="none" stroke-width="1.1"/>
<line x1="260" y1="724.5" x2="260" y2="734.3" stroke="#00ff00" stroke-width="1.1" />
<line x1="262" y1="724.5" x2="262" y2="734.3" stroke="#00ff00" stroke-width="1.1" />
<rect x="259.2" y="734.3" width="3.6" height="4.0" stroke="#00ff00" fill="none" stroke-width="1.1"/>
<line x1="141.3" y1="588.3" x2="302" y2="588.3" stroke="#5a5a5a" stroke-width="0.8" />
<line x1="141.3" y1="583.8" x2="141.3" y2="604" stroke="#5a5a5a" stroke-width="0.8" />
<line x1="302" y1="583.8" x2="302" y2="604" stroke="#5a5a5a" stroke-width="0.8" />
<g transform="translate(216.69 586.3) skewX(-15) scale(0.7488 0.7200)" fill="none" stroke="#ff0000" stroke-width="1.0" stroke-linejoin="round" stroke-linecap="round"><path transform="translate(0.00 0)" d="M0 -10 H4.6 L2 -5.8 H2.7 Q4.6 -5.8 4.6 -3.9 V-1.9 Q4.6 0 2.7 0 H1.9 Q0.2 0 0 -1.7" vector-effect="non-scaling-stroke"/><path transform="translate(7.00 0)" d="M0 -8.2 Q0.2 -10 1.9 -10 H2.7 Q4.6 -10 4.6 -8.1 V-7.6 Q4.6 -6.3 3.6 -5.3 L0 0 H4.6" vector-effect="non-scaling-stroke"/></g>
<line x1="132.5" y1="598.8" x2="310.8" y2="598.8" stroke="#5a5a5a" stroke-width="0.8" />
<line x1="151.3" y1="593.8" x2="151.3" y2="609" stroke="#5a5a5a" stroke-width="0.8" />
<line x1="292.5" y1="593.8" x2="292.5" y2="609" stroke="#5a5a5a" stroke-width="0.8" />
<g transform="translate(216.69 596.8) skewX(-15) scale(0.7488 0.7200)" fill="none" stroke="#ff0000" stroke-width="1.0" stroke-linejoin="round" stroke-linecap="round"><path transform="translate(0.00 0)" d="M0 -8.2 Q0.2 -10 1.9 -10 H2.7 Q4.6 -10 4.6 -8.1 V-7.6 Q4.6 -6.3 3.6 -5.3 L0 0 H4.6" vector-effect="non-scaling-stroke"/><path transform="translate(7.00 0)" d="M1.9 -5.4 Q0.2 -5.4 0.2 -7.1 V-8.3 Q0.2 -10 1.9 -10 H2.7 Q4.4 -10 4.4 -8.3 V-7.1 Q4.4 -5.4 2.7 -5.4 Z M1.9 -5.4 Q0 -5.4 0 -3.5 V-1.9 Q0 0 1.9 0 H2.7 Q4.6 0 4.6 -1.9 V-3.5 Q4.6 -5.4 2.7 -5.4" vector-effect="non-scaling-stroke"/></g>
<g transform="translate(143.61 596.8) skewX(-15) scale(0.7488 0.7200)" fill="none" stroke="#ff0000" stroke-width="1.0" stroke-linejoin="round" stroke-linecap="round"><path transform="translate(0.00 0)" d="M0 -8.2 Q0.2 -10 1.9 -10 H2.7 Q4.6 -10 4.6 -8.1 V-7.6 Q4.6 -6.3 3.6 -5.3 L0 0 H4.6" vector-effect="non-scaling-stroke"/></g>
<g transform="translate(294.61 596.8) skewX(-15) scale(0.7488 0.7200)" fill="none" stroke="#ff0000" stroke-width="1.0" stroke-linejoin="round" stroke-linecap="round"><path transform="translate(0.00 0)" d="M0 -8.2 Q0.2 -10 1.9 -10 H2.7 Q4.6 -10 4.6 -8.1 V-7.6 Q4.6 -6.3 3.6 -5.3 L0 0 H4.6" vector-effect="non-scaling-stroke"/></g>
<line x1="221.3" y1="593.8" x2="221.3" y2="600" stroke="#5a5a5a" stroke-width="0.8" />
<line x1="221.3" y1="611.5" x2="221.3" y2="618.8" stroke="#5a5a5a" stroke-width="0.8" />
<line x1="221.3" y1="651.3" x2="221.3" y2="660" stroke="#5a5a5a" stroke-width="0.8" />
<line x1="221.3" y1="670" x2="221.3" y2="677.5" stroke="#5a5a5a" stroke-width="0.8" />
<g transform="translate(219.21 610) skewX(-15) scale(0.7488 0.7200)" fill="none" stroke="#ff0000" stroke-width="1.0" stroke-linejoin="round" stroke-linecap="round"><path transform="translate(0.00 0)" d="M0 -7.6 L2.2 -10 V0" vector-effect="non-scaling-stroke"/></g>
<g transform="translate(218.81 668.7) skewX(-15) scale(0.7488 0.7200)" fill="none" stroke="#ff0000" stroke-width="1.0" stroke-linejoin="round" stroke-linecap="round"><path transform="translate(0.00 0)" d="M0 -8.2 Q0.2 -10 1.9 -10 H2.7 Q4.6 -10 4.6 -8.1 V-7.6 Q4.6 -6.3 3.6 -5.3 L0 0 H4.6" vector-effect="non-scaling-stroke"/></g>
<line x1="134.5" y1="604.5" x2="134.5" y2="632" stroke="#5a5a5a" stroke-width="0.8" />
<line x1="134.5" y1="644" x2="134.5" y2="669.3" stroke="#5a5a5a" stroke-width="0.8" />
<line x1="130" y1="669.3" x2="141" y2="669.3" stroke="#5a5a5a" stroke-width="0.8" />
<g transform="translate(129.89 641.2) skewX(-15) scale(0.7488 0.7200)" fill="none" stroke="#ff0000" stroke-width="1.0" stroke-linejoin="round" stroke-linecap="round"><path transform="translate(0.00 0)" d="M0 -7.6 L2.2 -10 V0" vector-effect="non-scaling-stroke"/><path transform="translate(4.60 0)" d="M0 -10 H4.6 L2 -5.8 H2.7 Q4.6 -5.8 4.6 -3.9 V-1.9 Q4.6 0 2.7 0 H1.9 Q0.2 0 0 -1.7" vector-effect="non-scaling-stroke"/></g>
<line x1="170.8" y1="609.3" x2="170.8" y2="629.5" stroke="#5a5a5a" stroke-width="0.8" />
<line x1="170.8" y1="641.5" x2="170.8" y2="659.5" stroke="#5a5a5a" stroke-width="0.8" />
<g transform="translate(165.89 638.7) skewX(-15) scale(0.7488 0.7200)" fill="none" stroke="#ff0000" stroke-width="1.0" stroke-linejoin="round" stroke-linecap="round"><path transform="translate(0.00 0)" d="M0 -7.6 L2.2 -10 V0" vector-effect="non-scaling-stroke"/><path transform="translate(4.60 0)" d="M1.9 0 Q0 0 0 -1.9 V-8.1 Q0 -10 1.9 -10 H2.7 Q4.6 -10 4.6 -8.1 V-1.9 Q4.6 0 2.7 0 Z" vector-effect="non-scaling-stroke"/></g>
<line x1="81.3" y1="604.5" x2="101" y2="604.5" stroke="#5a5a5a" stroke-width="0.8" />
<line x1="81.3" y1="724.5" x2="101" y2="724.5" stroke="#5a5a5a" stroke-width="0.8" />
<line x1="85.8" y1="604.5" x2="85.8" y2="659" stroke="#5a5a5a" stroke-width="0.8" />
<line x1="85.8" y1="671.5" x2="85.8" y2="724.5" stroke="#5a5a5a" stroke-width="0.8" />
<g transform="translate(80.92 668.7) skewX(-15) scale(0.7488 0.7200)" fill="none" stroke="#ff0000" stroke-width="1.0" stroke-linejoin="round" stroke-linecap="round"><path transform="translate(0.00 0)" d="M0 -8.2 Q0.2 -10 1.9 -10 H2.7 Q4.6 -10 4.6 -8.1 V-7.6 Q4.6 -6.3 3.6 -5.3 L0 0 H4.6" vector-effect="non-scaling-stroke"/><path transform="translate(7.00 0)" d="M2.6 -10 L0 -2.6 H4.8 M3.6 -5.4 V0" vector-effect="non-scaling-stroke"/></g>
<line x1="105" y1="753" x2="338.3" y2="753" stroke="#5a5a5a" stroke-width="0.8" />
<line x1="105" y1="739.5" x2="105" y2="757.5" stroke="#5a5a5a" stroke-width="0.8" />
<line x1="338.3" y1="739.5" x2="338.3" y2="757.5" stroke="#5a5a5a" stroke-width="0.8" />
<g transform="translate(212.50 750.5) skewX(-15) scale(0.7488 0.7200)" fill="none" stroke="#ff0000" stroke-width="1.0" stroke-linejoin="round" stroke-linecap="round"><path transform="translate(0.00 0)" d="M2.6 -10 L0 -2.6 H4.8 M3.6 -5.4 V0" vector-effect="non-scaling-stroke"/><path transform="translate(7.20 0)" d="M4.4 -8.4 Q4.2 -10 2.7 -10 H1.9 Q0 -10 0 -8.1 V-1.9 Q0 0 1.9 0 H2.7 Q4.6 0 4.6 -1.9 V-3.9 Q4.6 -5.8 2.7 -5.8 H1.9 Q0 -5.8 0 -3.9" vector-effect="non-scaling-stroke"/></g>
<g transform="translate(222.57 743.8) skewX(-15) scale(0.5800 0.5600)" fill="none" stroke="#ff0000" stroke-width="0.95" stroke-linejoin="round" stroke-linecap="round"><path transform="translate(0.00 0)" d="M0 -7.6 L2.2 -10 V0" vector-effect="non-scaling-stroke"/></g>
<line x1="221.06544" y1="751.2" x2="230.66544" y2="737.5" stroke="#ff0000" stroke-width="1.0" />
<g transform="translate(227.07 750.4) skewX(-15) scale(0.6600 0.6300)" fill="none" stroke="#ff0000" stroke-width="0.95" stroke-linejoin="round" stroke-linecap="round"><path transform="translate(0.00 0)" d="M0 -8.2 Q0.2 -10 1.9 -10 H2.7 Q4.6 -10 4.6 -8.1 V-7.6 Q4.6 -6.3 3.6 -5.3 L0 0 H4.6" vector-effect="non-scaling-stroke"/></g>
<line x1="101.3" y1="763.3" x2="342.5" y2="763.3" stroke="#5a5a5a" stroke-width="0.8" />
<line x1="101.3" y1="725.5" x2="101.3" y2="768" stroke="#5a5a5a" stroke-width="0.8" />
<line x1="342.5" y1="725.5" x2="342.5" y2="768" stroke="#5a5a5a" stroke-width="0.8" />
<g transform="translate(216.12 761.2) skewX(-15) scale(0.7488 0.7200)" fill="none" stroke="#ff0000" stroke-width="1.0" stroke-linejoin="round" stroke-linecap="round"><path transform="translate(0.00 0)" d="M2.6 -10 L0 -2.6 H4.8 M3.6 -5.4 V0" vector-effect="non-scaling-stroke"/><path transform="translate(7.20 0)" d="M1.9 -5.4 Q0.2 -5.4 0.2 -7.1 V-8.3 Q0.2 -10 1.9 -10 H2.7 Q4.4 -10 4.4 -8.3 V-7.1 Q4.4 -5.4 2.7 -5.4 Z M1.9 -5.4 Q0 -5.4 0 -3.5 V-1.9 Q0 0 1.9 0 H2.7 Q4.6 0 4.6 -1.9 V-3.5 Q4.6 -5.4 2.7 -5.4" vector-effect="non-scaling-stroke"/></g>
<path d="M438.8 604.4 H443.8 V694.3 H675.7 V604.4 H680.5 V724.5 H438.8 Z" stroke="#000" fill="#dcdcdc" stroke-width="1.3" />
<path transform="translate(527.9 661.6) skewX(-15) scale(2.0600)" d="M1.9 0 Q0 0 0 -1.9 V-8.1 Q0 -10 1.9 -10 H2.8 Q4.7 -10 4.7 -8.1 V-1.9 Q4.7 0 2.8 0 Z M7.9 0 V-10 H10.9 Q12.8 -10 12.8 -8.1 V-6.6 Q12.8 -4.7 10.9 -4.7 H7.9 M20.7 0 H16.4 V-10 H20.7 M16.4 -5.2 H19.7 M23.8 0 V-10 L29 0 V-10" fill="none" stroke="#111" stroke-width="0.558" stroke-linejoin="round" stroke-linecap="round"/>
<line x1="430" y1="599.5" x2="689" y2="599.5" stroke="#5a5a5a" stroke-width="0.8" />
<line x1="438.8" y1="595" x2="438.8" y2="604" stroke="#5a5a5a" stroke-width="0.8" />
<line x1="443.8" y1="595" x2="443.8" y2="604" stroke="#5a5a5a" stroke-width="0.8" />
<line x1="675.7" y1="595" x2="675.7" y2="604" stroke="#5a5a5a" stroke-width="0.8" />
<line x1="680.5" y1="595" x2="680.5" y2="604" stroke="#5a5a5a" stroke-width="0.8" />
<g transform="translate(550.00 597) skewX(-15) scale(0.7488 0.7200)" fill="none" stroke="#ff0000" stroke-width="1.0" stroke-linejoin="round" stroke-linecap="round"><path transform="translate(0.00 0)" d="M2.6 -10 L0 -2.6 H4.8 M3.6 -5.4 V0" vector-effect="non-scaling-stroke"/><path transform="translate(7.20 0)" d="M4.4 -8.4 Q4.2 -10 2.7 -10 H1.9 Q0 -10 0 -8.1 V-1.9 Q0 0 1.9 0 H2.7 Q4.6 0 4.6 -1.9 V-3.9 Q4.6 -5.8 2.7 -5.8 H1.9 Q0 -5.8 0 -3.9" vector-effect="non-scaling-stroke"/></g>
<g transform="translate(560.07 590.3) skewX(-15) scale(0.5800 0.5600)" fill="none" stroke="#ff0000" stroke-width="0.95" stroke-linejoin="round" stroke-linecap="round"><path transform="translate(0.00 0)" d="M0 -7.6 L2.2 -10 V0" vector-effect="non-scaling-stroke"/></g>
<line x1="558.56544" y1="597.7" x2="568.16544" y2="584" stroke="#ff0000" stroke-width="1.0" />
<g transform="translate(564.57 596.9) skewX(-15) scale(0.6600 0.6300)" fill="none" stroke="#ff0000" stroke-width="0.95" stroke-linejoin="round" stroke-linecap="round"><path transform="translate(0.00 0)" d="M0 -8.2 Q0.2 -10 1.9 -10 H2.7 Q4.6 -10 4.6 -8.1 V-7.6 Q4.6 -6.3 3.6 -5.3 L0 0 H4.6" vector-effect="non-scaling-stroke"/></g>
<g transform="translate(436.00 590.6999999999999) skewX(-15) scale(0.5800 0.5600)" fill="none" stroke="#ff0000" stroke-width="0.95" stroke-linejoin="round" stroke-linecap="round"><path transform="translate(0.00 0)" d="M0 -10 H4.6 L2 -5.8 H2.7 Q4.6 -5.8 4.6 -3.9 V-1.9 Q4.6 0 2.7 0 H1.9 Q0.2 0 0 -1.7" vector-effect="non-scaling-stroke"/></g>
<line x1="434.5" y1="598.1" x2="444.1" y2="584.4" stroke="#ff0000" stroke-width="1.0" />
<g transform="translate(440.50 597.3) skewX(-15) scale(0.6600 0.6300)" fill="none" stroke="#ff0000" stroke-width="0.95" stroke-linejoin="round" stroke-linecap="round"><path transform="translate(0.00 0)" d="M2.6 -10 L0 -2.6 H4.8 M3.6 -5.4 V0" vector-effect="non-scaling-stroke"/></g>
<g transform="translate(674.10 590.6999999999999) skewX(-15) scale(0.5800 0.5600)" fill="none" stroke="#ff0000" stroke-width="0.95" stroke-linejoin="round" stroke-linecap="round"><path transform="translate(0.00 0)" d="M0 -10 H4.6 L2 -5.8 H2.7 Q4.6 -5.8 4.6 -3.9 V-1.9 Q4.6 0 2.7 0 H1.9 Q0.2 0 0 -1.7" vector-effect="non-scaling-stroke"/></g>
<line x1="672.6" y1="598.1" x2="682.2" y2="584.4" stroke="#ff0000" stroke-width="1.0" />
<g transform="translate(678.60 597.3) skewX(-15) scale(0.6600 0.6300)" fill="none" stroke="#ff0000" stroke-width="0.95" stroke-linejoin="round" stroke-linecap="round"><path transform="translate(0.00 0)" d="M2.6 -10 L0 -2.6 H4.8 M3.6 -5.4 V0" vector-effect="non-scaling-stroke"/></g>
<line x1="415.5" y1="604.4" x2="438" y2="604.4" stroke="#5a5a5a" stroke-width="0.8" />
<line x1="415.5" y1="724.5" x2="438" y2="724.5" stroke="#5a5a5a" stroke-width="0.8" />
<line x1="420.8" y1="604.4" x2="420.8" y2="659" stroke="#5a5a5a" stroke-width="0.8" />
<line x1="420.8" y1="671.5" x2="420.8" y2="724.5" stroke="#5a5a5a" stroke-width="0.8" />
<g transform="translate(415.12 668.7) skewX(-15) scale(0.7488 0.7200)" fill="none" stroke="#ff0000" stroke-width="1.0" stroke-linejoin="round" stroke-linecap="round"><path transform="translate(0.00 0)" d="M0 -8.2 Q0.2 -10 1.9 -10 H2.7 Q4.6 -10 4.6 -8.1 V-7.6 Q4.6 -6.3 3.6 -5.3 L0 0 H4.6" vector-effect="non-scaling-stroke"/><path transform="translate(7.00 0)" d="M2.6 -10 L0 -2.6 H4.8 M3.6 -5.4 V0" vector-effect="non-scaling-stroke"/></g>
<line x1="438.8" y1="743.8" x2="680.5" y2="743.8" stroke="#5a5a5a" stroke-width="0.8" />
<line x1="438.8" y1="725.5" x2="438.8" y2="748.8" stroke="#5a5a5a" stroke-width="0.8" />
<line x1="680.5" y1="725.5" x2="680.5" y2="748.8" stroke="#5a5a5a" stroke-width="0.8" />
<g transform="translate(554.62 741.2) skewX(-15) scale(0.7488 0.7200)" fill="none" stroke="#ff0000" stroke-width="1.0" stroke-linejoin="round" stroke-linecap="round"><path transform="translate(0.00 0)" d="M2.6 -10 L0 -2.6 H4.8 M3.6 -5.4 V0" vector-effect="non-scaling-stroke"/><path transform="translate(7.20 0)" d="M1.9 -5.4 Q0.2 -5.4 0.2 -7.1 V-8.3 Q0.2 -10 1.9 -10 H2.7 Q4.4 -10 4.4 -8.3 V-7.1 Q4.4 -5.4 2.7 -5.4 Z M1.9 -5.4 Q0 -5.4 0 -3.5 V-1.9 Q0 0 1.9 0 H2.7 Q4.6 0 4.6 -1.9 V-3.5 Q4.6 -5.4 2.7 -5.4" vector-effect="non-scaling-stroke"/></g>
<line x1="644.5" y1="604.5" x2="675" y2="604.5" stroke="#5a5a5a" stroke-width="0.8" />
<line x1="648.7" y1="604.5" x2="648.7" y2="644" stroke="#5a5a5a" stroke-width="0.8" />
<line x1="648.7" y1="656.5" x2="648.7" y2="694.3" stroke="#5a5a5a" stroke-width="0.8" />
<g transform="translate(644.29 653.9) skewX(-15) scale(0.7488 0.7200)" fill="none" stroke="#ff0000" stroke-width="1.0" stroke-linejoin="round" stroke-linecap="round"><path transform="translate(0.00 0)" d="M0 -7.6 L2.2 -10 V0" vector-effect="non-scaling-stroke"/><path transform="translate(4.60 0)" d="M1.9 -5.4 Q0.2 -5.4 0.2 -7.1 V-8.3 Q0.2 -10 1.9 -10 H2.7 Q4.4 -10 4.4 -8.3 V-7.1 Q4.4 -5.4 2.7 -5.4 Z M1.9 -5.4 Q0 -5.4 0 -3.5 V-1.9 Q0 0 1.9 0 H2.7 Q4.6 0 4.6 -1.9 V-3.5 Q4.6 -5.4 2.7 -5.4" vector-effect="non-scaling-stroke"/></g>
<line x1="670.6" y1="694.3" x2="670.6" y2="703" stroke="#5a5a5a" stroke-width="0.8" />
<line x1="670.6" y1="715" x2="670.6" y2="724.5" stroke="#5a5a5a" stroke-width="0.8" />
<g transform="translate(668.11 712.7) skewX(-15) scale(0.7488 0.7200)" fill="none" stroke="#ff0000" stroke-width="1.0" stroke-linejoin="round" stroke-linecap="round"><path transform="translate(0.00 0)" d="M4.4 -8.4 Q4.2 -10 2.7 -10 H1.9 Q0 -10 0 -8.1 V-1.9 Q0 0 1.9 0 H2.7 Q4.6 0 4.6 -1.9 V-3.9 Q4.6 -5.8 2.7 -5.8 H1.9 Q0 -5.8 0 -3.9" vector-effect="non-scaling-stroke"/></g>
<line x1="679" y1="613.5" x2="728.6" y2="613.5" stroke="#555" stroke-width="0.8" />
<g transform="translate(728.65 617.1) skewX(-15) scale(0.7937 0.7632)" fill="none" stroke="#ff0000" stroke-width="1.0" stroke-linejoin="round" stroke-linecap="round"><path transform="translate(0.00 0)" d="M0 -8.2 Q0.2 -10 1.9 -10 H2.7 Q4.6 -10 4.6 -8.1 V-7.6 Q4.6 -6.3 3.6 -5.3 L0 0 H4.6" vector-effect="non-scaling-stroke"/></g>
<line x1="731.2" y1="603.4" x2="731.2" y2="608.8" stroke="#5a5a5a" stroke-width="0.8" />
<line x1="731.2" y1="617.3" x2="731.2" y2="620.5" stroke="#5a5a5a" stroke-width="0.8" />
<line x1="729" y1="606.8" x2="737" y2="606.8" stroke="#5a5a5a" stroke-width="0.8" />
<line x1="729" y1="616.9" x2="737" y2="616.9" stroke="#5a5a5a" stroke-width="0.8" />
<path d="M742.3 606.6 V616.7 H746.2" stroke="#2a2a2a" fill="none" stroke-width="1.6" />
<g transform="translate(738.20 627) skewX(-15) scale(0.7400 0.7400)" fill="none" stroke="#ff0000" stroke-width="1.0" stroke-linejoin="round" stroke-linecap="round"><path transform="translate(0.00 0)" d="M0 -10 H4.6 L2 -5.8 H2.7 Q4.6 -5.8 4.6 -3.9 V-1.9 Q4.6 0 2.7 0 H1.9 Q0.2 0 0 -1.7" vector-effect="non-scaling-stroke"/></g>
<line x1="739.2" y1="634.4" x2="749.8" y2="619.4" stroke="#ff0000" stroke-width="1.0" />
<g transform="translate(745.60 633.4) skewX(-15) scale(0.7200 0.7000)" fill="none" stroke="#ff0000" stroke-width="1.0" stroke-linejoin="round" stroke-linecap="round"><path transform="translate(0.00 0)" d="M2.6 -10 L0 -2.6 H4.8 M3.6 -5.4 V0" vector-effect="non-scaling-stroke"/></g>
<line x1="741.9" y1="622.5" x2="741.9" y2="635.4" stroke="#777" stroke-width="0.7" />
<line x1="746.1" y1="622.5" x2="746.1" y2="635.4" stroke="#777" stroke-width="0.7" />
<line x1="741.9" y1="634" x2="746.1" y2="634" stroke="#777" stroke-width="0.7" />
<g transform="translate(696.00 646) skewX(-15) scale(0.8181 0.7900)" fill="none" stroke="#000" stroke-width="1.0" stroke-linejoin="round" stroke-linecap="round"><path transform="translate(0.00 0)" d="M0 0 V-10 H4.6 M0 -5.2 H3.4" vector-effect="non-scaling-stroke"/><path transform="translate(7.30 0)" d="M0 -10 V-1.5 Q0 0 1.5 0" vector-effect="non-scaling-stroke"/><path transform="translate(11.50 0)" d="M0.2 -5.8 Q0.5 -7 1.8 -7 H2.6 Q4.4 -7 4.4 -5.2 V0 M4.4 -4 H1.8 Q0 -4 0 -2.2 V-1.8 Q0 0 1.8 0 H2.6 Q4.4 0 4.4 -1.8" vector-effect="non-scaling-stroke"/><path transform="translate(18.60 0)" d="M0 0 V-7 M0 -5.2 Q0 -7 1.8 -7 H2.6 Q4.4 -7 4.4 -5.2 V0" vector-effect="non-scaling-stroke"/><path transform="translate(25.70 0)" d="M4.4 -7 V1.2 Q4.4 3 2.6 3 H1.8 Q0.4 3 0.2 1.9 M4.4 -5.2 Q4.4 -7 2.6 -7 H1.8 Q0 -7 0 -5.2 V-1.8 Q0 0 1.8 0 H2.6 Q4.4 0 4.4 -1.8" vector-effect="non-scaling-stroke"/><path transform="translate(32.80 0)" d="M0 -3.4 H4.4 V-5.2 Q4.4 -7 2.6 -7 H1.8 Q0 -7 0 -5.2 V-1.8 Q0 0 1.8 0 H2.6 Q4.2 0 4.4 -1.4" vector-effect="non-scaling-stroke"/><path transform="translate(45.80 0)" d="M4.4 -7 V1.2 Q4.4 3 2.6 3 H1.8 Q0.4 3 0.2 1.9 M4.4 -5.2 Q4.4 -7 2.6 -7 H1.8 Q0 -7 0 -5.2 V-1.8 Q0 0 1.8 0 H2.6 Q4.4 0 4.4 -1.8" vector-effect="non-scaling-stroke"/><path transform="translate(52.90 0)" d="M1.8 0 Q0 0 0 -1.8 V-5.2 Q0 -7 1.8 -7 H2.6 Q4.4 -7 4.4 -5.2 V-1.8 Q4.4 0 2.6 0 Z" vector-effect="non-scaling-stroke"/><path transform="translate(60.00 0)" d="M0 -3.4 H4.4 V-5.2 Q4.4 -7 2.6 -7 H1.8 Q0 -7 0 -5.2 V-1.8 Q0 0 1.8 0 H2.6 Q4.2 0 4.4 -1.4" vector-effect="non-scaling-stroke"/><path transform="translate(67.10 0)" d="M4.2 -5.6 Q4 -7 2.6 -7 H1.7 Q0 -7 0 -5.4 Q0 -4 1.4 -3.7 L3 -3.3 Q4.4 -3 4.4 -1.6 Q4.4 0 2.7 0 H1.7 Q0.2 0 0 -1.4" vector-effect="non-scaling-stroke"/><path transform="translate(80.10 0)" d="M0 -7 V-1.8 Q0 0 1.8 0 H2.6 Q4.4 0 4.4 -1.8 M4.4 -7 V0" vector-effect="non-scaling-stroke"/><path transform="translate(87.20 0)" d="M0 3 V-7 M0 -5.2 Q0 -7 1.8 -7 H2.6 Q4.4 -7 4.4 -5.2 V-1.8 Q4.4 0 2.6 0 H1.8 Q0 0 0 -1.8" vector-effect="non-scaling-stroke"/><path transform="translate(100.20 0)" d="M0 -8.2 Q0.2 -10 1.9 -10 H2.7 Q4.6 -10 4.6 -8.1 V-7.6 Q4.6 -6.3 3.6 -5.3 L0 0 H4.6" vector-effect="non-scaling-stroke"/><path transform="translate(107.50 0)" d="M0 -10 V-7.5 M1.6 -10 V-7.5" vector-effect="non-scaling-stroke"/><path transform="translate(111.80 0)" d="M0 0 V-10 M5.4 0 V-10 M0 -5.2 H5.4" vector-effect="non-scaling-stroke"/></g>
<line x1="624.8" y1="716.9" x2="723.9" y2="692.2" stroke="#555" stroke-width="0.8" />
<g transform="translate(723.70 697.5) skewX(-15) scale(0.8087 0.7776)" fill="none" stroke="#ff0000" stroke-width="1.0" stroke-linejoin="round" stroke-linecap="round"><path transform="translate(0.00 0)" d="M0 -8.2 Q0.2 -10 1.9 -10 H2.7 Q4.6 -10 4.6 -8.1 V-7.6 Q4.6 -6.3 3.6 -5.3 L0 0 H4.6" vector-effect="non-scaling-stroke"/></g>
<line x1="726.3" y1="684.4" x2="726.3" y2="689.2" stroke="#5a5a5a" stroke-width="0.8" />
<line x1="726.3" y1="697.8" x2="726.3" y2="701" stroke="#5a5a5a" stroke-width="0.8" />
<line x1="724.3" y1="687.5" x2="728.3" y2="687.5" stroke="#5a5a5a" stroke-width="0.8" />
<line x1="724.3" y1="697.4" x2="728.3" y2="697.4" stroke="#5a5a5a" stroke-width="0.8" />
<path d="M732.7 687.1 V697.3 H762.9" stroke="#111" fill="none" stroke-width="1.5" />
<line x1="732.7" y1="709.3" x2="762.7" y2="709.3" stroke="#5a5a5a" stroke-width="0.8" />
<line x1="732.7" y1="702.3" x2="732.7" y2="711.4" stroke="#5a5a5a" stroke-width="0.8" />
<line x1="762.7" y1="702.3" x2="762.7" y2="711.4" stroke="#5a5a5a" stroke-width="0.8" />
<g transform="translate(737.51 709) skewX(-15) scale(0.7488 0.7200)" fill="none" stroke="#ff0000" stroke-width="1.0" stroke-linejoin="round" stroke-linecap="round"><path transform="translate(0.00 0)" d="M4.4 -8.4 Q4.2 -10 2.7 -10 H1.9 Q0 -10 0 -8.1 V-1.9 Q0 0 1.9 0 H2.7 Q4.6 0 4.6 -1.9 V-3.9 Q4.6 -5.8 2.7 -5.8 H1.9 Q0 -5.8 0 -3.9" vector-effect="non-scaling-stroke"/></g>
<g transform="translate(693.20 722.3) skewX(-15) scale(0.8181 0.7900)" fill="none" stroke="#000" stroke-width="1.0" stroke-linejoin="round" stroke-linecap="round"><path transform="translate(0.00 0)" d="M0 0 V-10 H4.6 M0 -5.2 H3.4" vector-effect="non-scaling-stroke"/><path transform="translate(7.30 0)" d="M0 -10 V-1.5 Q0 0 1.5 0" vector-effect="non-scaling-stroke"/><path transform="translate(11.50 0)" d="M0.2 -5.8 Q0.5 -7 1.8 -7 H2.6 Q4.4 -7 4.4 -5.2 V0 M4.4 -4 H1.8 Q0 -4 0 -2.2 V-1.8 Q0 0 1.8 0 H2.6 Q4.4 0 4.4 -1.8" vector-effect="non-scaling-stroke"/><path transform="translate(18.60 0)" d="M0 0 V-7 M0 -5.2 Q0 -7 1.8 -7 H2.6 Q4.4 -7 4.4 -5.2 V0" vector-effect="non-scaling-stroke"/><path transform="translate(25.70 0)" d="M4.4 -7 V1.2 Q4.4 3 2.6 3 H1.8 Q0.4 3 0.2 1.9 M4.4 -5.2 Q4.4 -7 2.6 -7 H1.8 Q0 -7 0 -5.2 V-1.8 Q0 0 1.8 0 H2.6 Q4.4 0 4.4 -1.8" vector-effect="non-scaling-stroke"/><path transform="translate(32.80 0)" d="M0 -3.4 H4.4 V-5.2 Q4.4 -7 2.6 -7 H1.8 Q0 -7 0 -5.2 V-1.8 Q0 0 1.8 0 H2.6 Q4.2 0 4.4 -1.4" vector-effect="non-scaling-stroke"/><path transform="translate(45.80 0)" d="M4.4 -7 V1.2 Q4.4 3 2.6 3 H1.8 Q0.4 3 0.2 1.9 M4.4 -5.2 Q4.4 -7 2.6 -7 H1.8 Q0 -7 0 -5.2 V-1.8 Q0 0 1.8 0 H2.6 Q4.4 0 4.4 -1.8" vector-effect="non-scaling-stroke"/><path transform="translate(52.90 0)" d="M1.8 0 Q0 0 0 -1.8 V-5.2 Q0 -7 1.8 -7 H2.6 Q4.4 -7 4.4 -5.2 V-1.8 Q4.4 0 2.6 0 Z" vector-effect="non-scaling-stroke"/><path transform="translate(60.00 0)" d="M0 -3.4 H4.4 V-5.2 Q4.4 -7 2.6 -7 H1.8 Q0 -7 0 -5.2 V-1.8 Q0 0 1.8 0 H2.6 Q4.2 0 4.4 -1.4" vector-effect="non-scaling-stroke"/><path transform="translate(67.10 0)" d="M4.2 -5.6 Q4 -7 2.6 -7 H1.7 Q0 -7 0 -5.4 Q0 -4 1.4 -3.7 L3 -3.3 Q4.4 -3 4.4 -1.6 Q4.4 0 2.7 0 H1.7 Q0.2 0 0 -1.4" vector-effect="non-scaling-stroke"/><path transform="translate(80.10 0)" d="M0 -7 V-1.8 Q0 0 1.8 0 H2.6 Q4.4 0 4.4 -1.8 M4.4 -7 V0" vector-effect="non-scaling-stroke"/><path transform="translate(87.20 0)" d="M0 3 V-7 M0 -5.2 Q0 -7 1.8 -7 H2.6 Q4.4 -7 4.4 -5.2 V-1.8 Q4.4 0 2.6 0 H1.8 Q0 0 0 -1.8" vector-effect="non-scaling-stroke"/><path transform="translate(100.20 0)" d="M0 -8.2 Q0.2 -10 1.9 -10 H2.7 Q4.6 -10 4.6 -8.1 V-7.6 Q4.6 -6.3 3.6 -5.3 L0 0 H4.6" vector-effect="non-scaling-stroke"/><path transform="translate(107.50 0)" d="M0 -10 V-7.5 M1.6 -10 V-7.5" vector-effect="non-scaling-stroke"/><path transform="translate(111.80 0)" d="M0 0 V-10 M5.4 0 V-10 M0 -5.2 H5.4" vector-effect="non-scaling-stroke"/></g>
<line x1="338" y1="264.7" x2="261" y2="289.5" stroke="#555" stroke-width="0.8" />
<line x1="378" y1="265.5" x2="473.8" y2="289.5" stroke="#555" stroke-width="0.8" />
<line x1="212.5" y1="281.3" x2="331.8" y2="326.8" stroke="#555" stroke-width="0.8" />
<line x1="258.8" y1="298.8" x2="332" y2="329.8" stroke="#555" stroke-width="0.8" />
<line x1="263.8" y1="337" x2="331.3" y2="330" stroke="#555" stroke-width="0.8" />
<line x1="175" y1="427.5" x2="331" y2="331" stroke="#555" stroke-width="0.8" />
<line x1="404.2" y1="330.5" x2="437" y2="300.8" stroke="#555" stroke-width="0.8" />
<line x1="300" y1="391" x2="366.3" y2="417" stroke="#555" stroke-width="0.8" />
<line x1="389.3" y1="417" x2="471" y2="395.5" stroke="#555" stroke-width="0.8" />
<line x1="306.3" y1="450.5" x2="369.3" y2="498" stroke="#555" stroke-width="0.8" />
<line x1="394.3" y1="500" x2="485.5" y2="439" stroke="#555" stroke-width="0.8" />
<line x1="260.5" y1="442.5" x2="250.8" y2="524.5" stroke="#555" stroke-width="0.8" />
</g>
</svg>
</body></html>
